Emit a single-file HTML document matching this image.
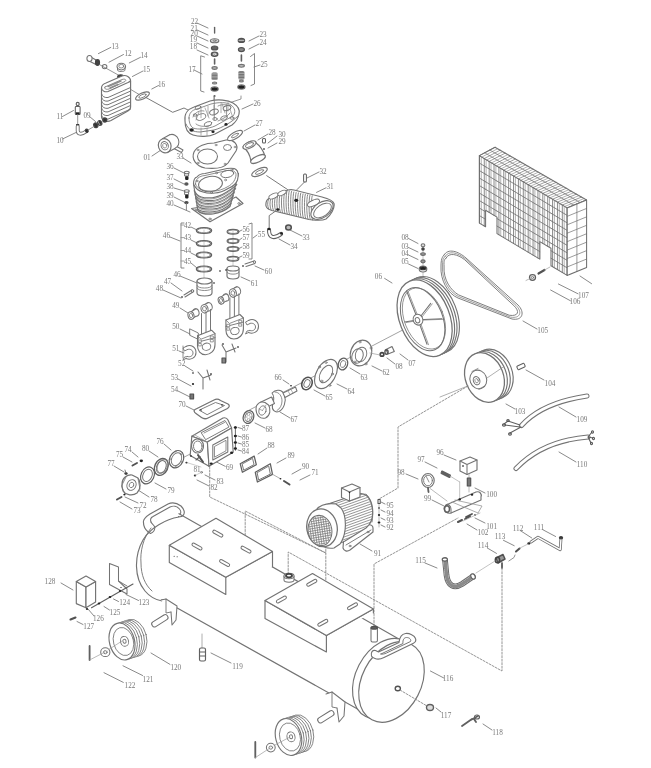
<!DOCTYPE html>
<html><head><meta charset="utf-8"><style>
html,body{margin:0;padding:0;background:#fff;}
body{width:651px;height:768px;overflow:hidden;}
svg{display:block;}
text{font-family:"Liberation Serif",serif;fill:#787878;}
</style></head><body>
<svg width="651" height="768" viewBox="0 0 651 768" stroke-linecap="round" stroke-linejoin="round">
<defs><filter id="bl" x="0" y="0" width="651" height="768" filterUnits="userSpaceOnUse"><feColorMatrix type="saturate" values="0"/></filter></defs>
<rect width="651" height="768" fill="#fff"/>
<g filter="url(#bl)">
<text x="115" y="46.5" font-size="8.4" transform="translate(115 46.5) scale(0.86 1) translate(-115 -46.5)" text-anchor="middle" dominant-baseline="central">13</text>
<text x="128" y="53.5" font-size="8.4" transform="translate(128 53.5) scale(0.86 1) translate(-128 -53.5)" text-anchor="middle" dominant-baseline="central">12</text>
<text x="144" y="55.5" font-size="8.4" transform="translate(144 55.5) scale(0.86 1) translate(-144 -55.5)" text-anchor="middle" dominant-baseline="central">14</text>
<text x="146.5" y="69.5" font-size="8.4" transform="translate(146.5 69.5) scale(0.86 1) translate(-146.5 -69.5)" text-anchor="middle" dominant-baseline="central">15</text>
<text x="161.6" y="84" font-size="8.4" transform="translate(161.6 84) scale(0.86 1) translate(-161.6 -84)" text-anchor="middle" dominant-baseline="central">16</text>
<text x="60" y="116" font-size="8.4" transform="translate(60 116) scale(0.86 1) translate(-60 -116)" text-anchor="middle" dominant-baseline="central">11</text>
<text x="87" y="115" font-size="8.4" transform="translate(87 115) scale(0.86 1) translate(-87 -115)" text-anchor="middle" dominant-baseline="central">09</text>
<text x="60" y="140" font-size="8.4" transform="translate(60 140) scale(0.86 1) translate(-60 -140)" text-anchor="middle" dominant-baseline="central">10</text>
<text x="194.6" y="21.2" font-size="8.4" transform="translate(194.6 21.2) scale(0.86 1) translate(-194.6 -21.2)" text-anchor="middle" dominant-baseline="central">22</text>
<text x="194.2" y="28.6" font-size="8.4" transform="translate(194.2 28.6) scale(0.86 1) translate(-194.2 -28.6)" text-anchor="middle" dominant-baseline="central">21</text>
<text x="194.2" y="33.3" font-size="8.4" transform="translate(194.2 33.3) scale(0.86 1) translate(-194.2 -33.3)" text-anchor="middle" dominant-baseline="central">20</text>
<text x="193.4" y="39.6" font-size="8.4" transform="translate(193.4 39.6) scale(0.86 1) translate(-193.4 -39.6)" text-anchor="middle" dominant-baseline="central">19</text>
<text x="193.4" y="45.9" font-size="8.4" transform="translate(193.4 45.9) scale(0.86 1) translate(-193.4 -45.9)" text-anchor="middle" dominant-baseline="central">18</text>
<text x="192" y="68.9" font-size="8.4" transform="translate(192 68.9) scale(0.86 1) translate(-192 -68.9)" text-anchor="middle" dominant-baseline="central">17</text>
<text x="263" y="34" font-size="8.4" transform="translate(263 34) scale(0.86 1) translate(-263 -34)" text-anchor="middle" dominant-baseline="central">23</text>
<text x="263" y="42" font-size="8.4" transform="translate(263 42) scale(0.86 1) translate(-263 -42)" text-anchor="middle" dominant-baseline="central">24</text>
<text x="264" y="64" font-size="8.4" transform="translate(264 64) scale(0.86 1) translate(-264 -64)" text-anchor="middle" dominant-baseline="central">25</text>
<text x="257" y="103" font-size="8.4" transform="translate(257 103) scale(0.86 1) translate(-257 -103)" text-anchor="middle" dominant-baseline="central">26</text>
<text x="259" y="123" font-size="8.4" transform="translate(259 123) scale(0.86 1) translate(-259 -123)" text-anchor="middle" dominant-baseline="central">27</text>
<text x="272" y="132" font-size="8.4" transform="translate(272 132) scale(0.86 1) translate(-272 -132)" text-anchor="middle" dominant-baseline="central">28</text>
<text x="282" y="134" font-size="8.4" transform="translate(282 134) scale(0.86 1) translate(-282 -134)" text-anchor="middle" dominant-baseline="central">30</text>
<text x="282" y="141" font-size="8.4" transform="translate(282 141) scale(0.86 1) translate(-282 -141)" text-anchor="middle" dominant-baseline="central">29</text>
<text x="147" y="157" font-size="8.4" transform="translate(147 157) scale(0.86 1) translate(-147 -157)" text-anchor="middle" dominant-baseline="central">01</text>
<text x="180" y="156" font-size="8.4" transform="translate(180 156) scale(0.86 1) translate(-180 -156)" text-anchor="middle" dominant-baseline="central">33</text>
<text x="170" y="166.5" font-size="8.4" transform="translate(170 166.5) scale(0.86 1) translate(-170 -166.5)" text-anchor="middle" dominant-baseline="central">36</text>
<text x="170" y="177" font-size="8.4" transform="translate(170 177) scale(0.86 1) translate(-170 -177)" text-anchor="middle" dominant-baseline="central">37</text>
<text x="170" y="186" font-size="8.4" transform="translate(170 186) scale(0.86 1) translate(-170 -186)" text-anchor="middle" dominant-baseline="central">38</text>
<text x="170" y="195" font-size="8.4" transform="translate(170 195) scale(0.86 1) translate(-170 -195)" text-anchor="middle" dominant-baseline="central">39</text>
<text x="170" y="203" font-size="8.4" transform="translate(170 203) scale(0.86 1) translate(-170 -203)" text-anchor="middle" dominant-baseline="central">40</text>
<text x="323" y="171" font-size="8.4" transform="translate(323 171) scale(0.86 1) translate(-323 -171)" text-anchor="middle" dominant-baseline="central">32</text>
<text x="330" y="186" font-size="8.4" transform="translate(330 186) scale(0.86 1) translate(-330 -186)" text-anchor="middle" dominant-baseline="central">31</text>
<text x="306" y="237" font-size="8.4" transform="translate(306 237) scale(0.86 1) translate(-306 -237)" text-anchor="middle" dominant-baseline="central">33</text>
<text x="294" y="246" font-size="8.4" transform="translate(294 246) scale(0.86 1) translate(-294 -246)" text-anchor="middle" dominant-baseline="central">34</text>
<text x="187.5" y="225" font-size="8.4" transform="translate(187.5 225) scale(0.86 1) translate(-187.5 -225)" text-anchor="middle" dominant-baseline="central">42</text>
<text x="187.5" y="237.6" font-size="8.4" transform="translate(187.5 237.6) scale(0.86 1) translate(-187.5 -237.6)" text-anchor="middle" dominant-baseline="central">43</text>
<text x="187.5" y="250.5" font-size="8.4" transform="translate(187.5 250.5) scale(0.86 1) translate(-187.5 -250.5)" text-anchor="middle" dominant-baseline="central">44</text>
<text x="187.5" y="261" font-size="8.4" transform="translate(187.5 261) scale(0.86 1) translate(-187.5 -261)" text-anchor="middle" dominant-baseline="central">45</text>
<text x="166.4" y="235.2" font-size="8.4" transform="translate(166.4 235.2) scale(0.86 1) translate(-166.4 -235.2)" text-anchor="middle" dominant-baseline="central">46</text>
<text x="246" y="229.4" font-size="8.4" transform="translate(246 229.4) scale(0.86 1) translate(-246 -229.4)" text-anchor="middle" dominant-baseline="central">56</text>
<text x="246" y="237.6" font-size="8.4" transform="translate(246 237.6) scale(0.86 1) translate(-246 -237.6)" text-anchor="middle" dominant-baseline="central">57</text>
<text x="246" y="246.3" font-size="8.4" transform="translate(246 246.3) scale(0.86 1) translate(-246 -246.3)" text-anchor="middle" dominant-baseline="central">58</text>
<text x="246" y="255.2" font-size="8.4" transform="translate(246 255.2) scale(0.86 1) translate(-246 -255.2)" text-anchor="middle" dominant-baseline="central">59</text>
<text x="261.4" y="234" font-size="8.4" transform="translate(261.4 234) scale(0.86 1) translate(-261.4 -234)" text-anchor="middle" dominant-baseline="central">55</text>
<text x="268.4" y="271.6" font-size="8.4" transform="translate(268.4 271.6) scale(0.86 1) translate(-268.4 -271.6)" text-anchor="middle" dominant-baseline="central">60</text>
<text x="254.4" y="283.3" font-size="8.4" transform="translate(254.4 283.3) scale(0.86 1) translate(-254.4 -283.3)" text-anchor="middle" dominant-baseline="central">61</text>
<text x="177" y="274" font-size="8.4" transform="translate(177 274) scale(0.86 1) translate(-177 -274)" text-anchor="middle" dominant-baseline="central">46</text>
<text x="167.6" y="281" font-size="8.4" transform="translate(167.6 281) scale(0.86 1) translate(-167.6 -281)" text-anchor="middle" dominant-baseline="central">47</text>
<text x="159.4" y="288" font-size="8.4" transform="translate(159.4 288) scale(0.86 1) translate(-159.4 -288)" text-anchor="middle" dominant-baseline="central">48</text>
<text x="175.8" y="305.6" font-size="8.4" transform="translate(175.8 305.6) scale(0.86 1) translate(-175.8 -305.6)" text-anchor="middle" dominant-baseline="central">49</text>
<text x="175.8" y="326.7" font-size="8.4" transform="translate(175.8 326.7) scale(0.86 1) translate(-175.8 -326.7)" text-anchor="middle" dominant-baseline="central">50</text>
<text x="175.8" y="348.5" font-size="8.4" transform="translate(175.8 348.5) scale(0.86 1) translate(-175.8 -348.5)" text-anchor="middle" dominant-baseline="central">51</text>
<text x="181.7" y="363" font-size="8.4" transform="translate(181.7 363) scale(0.86 1) translate(-181.7 -363)" text-anchor="middle" dominant-baseline="central">52</text>
<text x="174.6" y="377" font-size="8.4" transform="translate(174.6 377) scale(0.86 1) translate(-174.6 -377)" text-anchor="middle" dominant-baseline="central">53</text>
<text x="174.6" y="389" font-size="8.4" transform="translate(174.6 389) scale(0.86 1) translate(-174.6 -389)" text-anchor="middle" dominant-baseline="central">54</text>
<text x="278" y="377" font-size="8.4" transform="translate(278 377) scale(0.86 1) translate(-278 -377)" text-anchor="middle" dominant-baseline="central">66</text>
<text x="386" y="372.5" font-size="8.4" transform="translate(386 372.5) scale(0.86 1) translate(-386 -372.5)" text-anchor="middle" dominant-baseline="central">62</text>
<text x="364" y="377" font-size="8.4" transform="translate(364 377) scale(0.86 1) translate(-364 -377)" text-anchor="middle" dominant-baseline="central">63</text>
<text x="351" y="391.5" font-size="8.4" transform="translate(351 391.5) scale(0.86 1) translate(-351 -391.5)" text-anchor="middle" dominant-baseline="central">64</text>
<text x="329" y="397" font-size="8.4" transform="translate(329 397) scale(0.86 1) translate(-329 -397)" text-anchor="middle" dominant-baseline="central">65</text>
<text x="294" y="419" font-size="8.4" transform="translate(294 419) scale(0.86 1) translate(-294 -419)" text-anchor="middle" dominant-baseline="central">67</text>
<text x="269" y="429.5" font-size="8.4" transform="translate(269 429.5) scale(0.86 1) translate(-269 -429.5)" text-anchor="middle" dominant-baseline="central">68</text>
<text x="399" y="366.7" font-size="8.4" transform="translate(399 366.7) scale(0.86 1) translate(-399 -366.7)" text-anchor="middle" dominant-baseline="central">08</text>
<text x="412" y="363" font-size="8.4" transform="translate(412 363) scale(0.86 1) translate(-412 -363)" text-anchor="middle" dominant-baseline="central">07</text>
<text x="405" y="236.9" font-size="8.4" transform="translate(405 236.9) scale(0.86 1) translate(-405 -236.9)" text-anchor="middle" dominant-baseline="central">08</text>
<text x="405" y="246" font-size="8.4" transform="translate(405 246) scale(0.86 1) translate(-405 -246)" text-anchor="middle" dominant-baseline="central">03</text>
<text x="405" y="253.2" font-size="8.4" transform="translate(405 253.2) scale(0.86 1) translate(-405 -253.2)" text-anchor="middle" dominant-baseline="central">04</text>
<text x="405" y="261.8" font-size="8.4" transform="translate(405 261.8) scale(0.86 1) translate(-405 -261.8)" text-anchor="middle" dominant-baseline="central">05</text>
<text x="378.4" y="276.8" font-size="8.4" transform="translate(378.4 276.8) scale(0.86 1) translate(-378.4 -276.8)" text-anchor="middle" dominant-baseline="central">06</text>
<text x="542.8" y="330.6" font-size="8.4" transform="translate(542.8 330.6) scale(0.86 1) translate(-542.8 -330.6)" text-anchor="middle" dominant-baseline="central">105</text>
<text x="583.5" y="295.2" font-size="8.4" transform="translate(583.5 295.2) scale(0.86 1) translate(-583.5 -295.2)" text-anchor="middle" dominant-baseline="central">107</text>
<text x="575" y="301" font-size="8.4" transform="translate(575 301) scale(0.86 1) translate(-575 -301)" text-anchor="middle" dominant-baseline="central">106</text>
<text x="550" y="383" font-size="8.4" transform="translate(550 383) scale(0.86 1) translate(-550 -383)" text-anchor="middle" dominant-baseline="central">104</text>
<text x="520" y="411.6" font-size="8.4" transform="translate(520 411.6) scale(0.86 1) translate(-520 -411.6)" text-anchor="middle" dominant-baseline="central">103</text>
<text x="582" y="419.7" font-size="8.4" transform="translate(582 419.7) scale(0.86 1) translate(-582 -419.7)" text-anchor="middle" dominant-baseline="central">109</text>
<text x="582" y="464" font-size="8.4" transform="translate(582 464) scale(0.86 1) translate(-582 -464)" text-anchor="middle" dominant-baseline="central">110</text>
<text x="182" y="404" font-size="8.4" transform="translate(182 404) scale(0.86 1) translate(-182 -404)" text-anchor="middle" dominant-baseline="central">70</text>
<text x="245.6" y="428.7" font-size="8.4" transform="translate(245.6 428.7) scale(0.86 1) translate(-245.6 -428.7)" text-anchor="middle" dominant-baseline="central">87</text>
<text x="245.6" y="437.3" font-size="8.4" transform="translate(245.6 437.3) scale(0.86 1) translate(-245.6 -437.3)" text-anchor="middle" dominant-baseline="central">86</text>
<text x="245.6" y="444.2" font-size="8.4" transform="translate(245.6 444.2) scale(0.86 1) translate(-245.6 -444.2)" text-anchor="middle" dominant-baseline="central">85</text>
<text x="245.6" y="451.2" font-size="8.4" transform="translate(245.6 451.2) scale(0.86 1) translate(-245.6 -451.2)" text-anchor="middle" dominant-baseline="central">84</text>
<text x="229.5" y="467.4" font-size="8.4" transform="translate(229.5 467.4) scale(0.86 1) translate(-229.5 -467.4)" text-anchor="middle" dominant-baseline="central">69</text>
<text x="197" y="469" font-size="8.4" transform="translate(197 469) scale(0.86 1) translate(-197 -469)" text-anchor="middle" dominant-baseline="central">81</text>
<text x="220" y="481.6" font-size="8.4" transform="translate(220 481.6) scale(0.86 1) translate(-220 -481.6)" text-anchor="middle" dominant-baseline="central">83</text>
<text x="214" y="487.8" font-size="8.4" transform="translate(214 487.8) scale(0.86 1) translate(-214 -487.8)" text-anchor="middle" dominant-baseline="central">82</text>
<text x="271" y="445.5" font-size="8.4" transform="translate(271 445.5) scale(0.86 1) translate(-271 -445.5)" text-anchor="middle" dominant-baseline="central">88</text>
<text x="291" y="455.7" font-size="8.4" transform="translate(291 455.7) scale(0.86 1) translate(-291 -455.7)" text-anchor="middle" dominant-baseline="central">89</text>
<text x="305.6" y="466" font-size="8.4" transform="translate(305.6 466) scale(0.86 1) translate(-305.6 -466)" text-anchor="middle" dominant-baseline="central">90</text>
<text x="315" y="472" font-size="8.4" transform="translate(315 472) scale(0.86 1) translate(-315 -472)" text-anchor="middle" dominant-baseline="central">71</text>
<text x="160" y="441" font-size="8.4" transform="translate(160 441) scale(0.86 1) translate(-160 -441)" text-anchor="middle" dominant-baseline="central">76</text>
<text x="145.5" y="448.5" font-size="8.4" transform="translate(145.5 448.5) scale(0.86 1) translate(-145.5 -448.5)" text-anchor="middle" dominant-baseline="central">80</text>
<text x="128" y="449.7" font-size="8.4" transform="translate(128 449.7) scale(0.86 1) translate(-128 -449.7)" text-anchor="middle" dominant-baseline="central">74</text>
<text x="119.6" y="454.6" font-size="8.4" transform="translate(119.6 454.6) scale(0.86 1) translate(-119.6 -454.6)" text-anchor="middle" dominant-baseline="central">75</text>
<text x="111" y="463" font-size="8.4" transform="translate(111 463) scale(0.86 1) translate(-111 -463)" text-anchor="middle" dominant-baseline="central">77</text>
<text x="171" y="490" font-size="8.4" transform="translate(171 490) scale(0.86 1) translate(-171 -490)" text-anchor="middle" dominant-baseline="central">79</text>
<text x="154" y="499" font-size="8.4" transform="translate(154 499) scale(0.86 1) translate(-154 -499)" text-anchor="middle" dominant-baseline="central">78</text>
<text x="143" y="505" font-size="8.4" transform="translate(143 505) scale(0.86 1) translate(-143 -505)" text-anchor="middle" dominant-baseline="central">72</text>
<text x="137" y="510" font-size="8.4" transform="translate(137 510) scale(0.86 1) translate(-137 -510)" text-anchor="middle" dominant-baseline="central">73</text>
<text x="440" y="452" font-size="8.4" transform="translate(440 452) scale(0.86 1) translate(-440 -452)" text-anchor="middle" dominant-baseline="central">96</text>
<text x="421" y="459.7" font-size="8.4" transform="translate(421 459.7) scale(0.86 1) translate(-421 -459.7)" text-anchor="middle" dominant-baseline="central">97</text>
<text x="401" y="472" font-size="8.4" transform="translate(401 472) scale(0.86 1) translate(-401 -472)" text-anchor="middle" dominant-baseline="central">98</text>
<text x="427.5" y="498.8" font-size="8.4" transform="translate(427.5 498.8) scale(0.86 1) translate(-427.5 -498.8)" text-anchor="middle" dominant-baseline="central">99</text>
<text x="491.6" y="494.8" font-size="8.4" transform="translate(491.6 494.8) scale(0.86 1) translate(-491.6 -494.8)" text-anchor="middle" dominant-baseline="central">100</text>
<text x="491.6" y="526" font-size="8.4" transform="translate(491.6 526) scale(0.86 1) translate(-491.6 -526)" text-anchor="middle" dominant-baseline="central">101</text>
<text x="483" y="532" font-size="8.4" transform="translate(483 532) scale(0.86 1) translate(-483 -532)" text-anchor="middle" dominant-baseline="central">102</text>
<text x="390" y="505" font-size="8.4" transform="translate(390 505) scale(0.86 1) translate(-390 -505)" text-anchor="middle" dominant-baseline="central">95</text>
<text x="390" y="513" font-size="8.4" transform="translate(390 513) scale(0.86 1) translate(-390 -513)" text-anchor="middle" dominant-baseline="central">94</text>
<text x="390" y="520.6" font-size="8.4" transform="translate(390 520.6) scale(0.86 1) translate(-390 -520.6)" text-anchor="middle" dominant-baseline="central">93</text>
<text x="390" y="527.5" font-size="8.4" transform="translate(390 527.5) scale(0.86 1) translate(-390 -527.5)" text-anchor="middle" dominant-baseline="central">92</text>
<text x="377.5" y="553.4" font-size="8.4" transform="translate(377.5 553.4) scale(0.86 1) translate(-377.5 -553.4)" text-anchor="middle" dominant-baseline="central">91</text>
<text x="539" y="527.7" font-size="8.4" transform="translate(539 527.7) scale(0.86 1) translate(-539 -527.7)" text-anchor="middle" dominant-baseline="central">111</text>
<text x="518" y="528.8" font-size="8.4" transform="translate(518 528.8) scale(0.86 1) translate(-518 -528.8)" text-anchor="middle" dominant-baseline="central">112</text>
<text x="500" y="536.3" font-size="8.4" transform="translate(500 536.3) scale(0.86 1) translate(-500 -536.3)" text-anchor="middle" dominant-baseline="central">113</text>
<text x="483" y="545" font-size="8.4" transform="translate(483 545) scale(0.86 1) translate(-483 -545)" text-anchor="middle" dominant-baseline="central">114</text>
<text x="420.6" y="560.3" font-size="8.4" transform="translate(420.6 560.3) scale(0.86 1) translate(-420.6 -560.3)" text-anchor="middle" dominant-baseline="central">115</text>
<text x="50" y="581.3" font-size="8.4" transform="translate(50 581.3) scale(0.86 1) translate(-50 -581.3)" text-anchor="middle" dominant-baseline="central">128</text>
<text x="124.6" y="602" font-size="8.4" transform="translate(124.6 602) scale(0.86 1) translate(-124.6 -602)" text-anchor="middle" dominant-baseline="central">124</text>
<text x="144" y="602" font-size="8.4" transform="translate(144 602) scale(0.86 1) translate(-144 -602)" text-anchor="middle" dominant-baseline="central">123</text>
<text x="115" y="612.4" font-size="8.4" transform="translate(115 612.4) scale(0.86 1) translate(-115 -612.4)" text-anchor="middle" dominant-baseline="central">125</text>
<text x="98.4" y="618" font-size="8.4" transform="translate(98.4 618) scale(0.86 1) translate(-98.4 -618)" text-anchor="middle" dominant-baseline="central">126</text>
<text x="88.7" y="626" font-size="8.4" transform="translate(88.7 626) scale(0.86 1) translate(-88.7 -626)" text-anchor="middle" dominant-baseline="central">127</text>
<text x="175.8" y="667" font-size="8.4" transform="translate(175.8 667) scale(0.86 1) translate(-175.8 -667)" text-anchor="middle" dominant-baseline="central">120</text>
<text x="148" y="679.6" font-size="8.4" transform="translate(148 679.6) scale(0.86 1) translate(-148 -679.6)" text-anchor="middle" dominant-baseline="central">121</text>
<text x="130" y="685" font-size="8.4" transform="translate(130 685) scale(0.86 1) translate(-130 -685)" text-anchor="middle" dominant-baseline="central">122</text>
<text x="237.5" y="666" font-size="8.4" transform="translate(237.5 666) scale(0.86 1) translate(-237.5 -666)" text-anchor="middle" dominant-baseline="central">119</text>
<text x="448" y="678" font-size="8.4" transform="translate(448 678) scale(0.86 1) translate(-448 -678)" text-anchor="middle" dominant-baseline="central">116</text>
<text x="446" y="715.7" font-size="8.4" transform="translate(446 715.7) scale(0.86 1) translate(-446 -715.7)" text-anchor="middle" dominant-baseline="central">117</text>
<text x="497.5" y="732.5" font-size="8.4" transform="translate(497.5 732.5) scale(0.86 1) translate(-497.5 -732.5)" text-anchor="middle" dominant-baseline="central">118</text>
<line x1="98.4" y1="53.6" x2="110.8" y2="47.4" stroke="#808080" stroke-width="0.92"/>
<line x1="109" y1="62.2" x2="123.5" y2="54.5" stroke="#808080" stroke-width="0.92"/>
<line x1="129.3" y1="62.9" x2="140.5" y2="57.3" stroke="#808080" stroke-width="0.92"/>
<line x1="132.4" y1="76.5" x2="143" y2="71" stroke="#808080" stroke-width="0.92"/>
<line x1="151.8" y1="89" x2="158.5" y2="85.5" stroke="#808080" stroke-width="0.92"/>
<line x1="62.5" y1="116.5" x2="73.5" y2="110.5" stroke="#808080" stroke-width="0.92"/>
<line x1="62.5" y1="139" x2="76" y2="132.5" stroke="#808080" stroke-width="0.92"/>
<line x1="89.5" y1="116.5" x2="95.5" y2="121.5" stroke="#808080" stroke-width="0.92"/>
<line x1="197" y1="23" x2="208" y2="28" stroke="#808080" stroke-width="0.92"/>
<line x1="197" y1="30" x2="208" y2="35" stroke="#808080" stroke-width="0.92"/>
<line x1="197" y1="36" x2="208" y2="41" stroke="#808080" stroke-width="0.92"/>
<line x1="197" y1="43" x2="208" y2="48" stroke="#808080" stroke-width="0.92"/>
<line x1="197" y1="50" x2="208" y2="55" stroke="#808080" stroke-width="0.92"/>
<line x1="194" y1="70" x2="202" y2="74" stroke="#808080" stroke-width="0.92"/>
<line x1="249" y1="41" x2="259" y2="36" stroke="#808080" stroke-width="0.92"/>
<line x1="249" y1="49" x2="259" y2="44" stroke="#808080" stroke-width="0.92"/>
<line x1="254" y1="67" x2="260" y2="65" stroke="#808080" stroke-width="0.92"/>
<line x1="242" y1="109" x2="253" y2="104" stroke="#808080" stroke-width="0.92"/>
<line x1="244" y1="131" x2="255" y2="125" stroke="#808080" stroke-width="0.92"/>
<line x1="258" y1="140" x2="268" y2="134" stroke="#808080" stroke-width="0.92"/>
<line x1="268" y1="143" x2="277" y2="136" stroke="#808080" stroke-width="0.92"/>
<line x1="268" y1="148" x2="277" y2="143" stroke="#808080" stroke-width="0.92"/>
<line x1="152" y1="156" x2="161" y2="150" stroke="#808080" stroke-width="0.92"/>
<line x1="183" y1="158" x2="191" y2="163" stroke="#808080" stroke-width="0.92"/>
<line x1="174" y1="168" x2="184" y2="173" stroke="#808080" stroke-width="0.92"/>
<line x1="174" y1="179" x2="184" y2="184" stroke="#808080" stroke-width="0.92"/>
<line x1="174" y1="188" x2="184" y2="191" stroke="#808080" stroke-width="0.92"/>
<line x1="174" y1="197" x2="184" y2="202" stroke="#808080" stroke-width="0.92"/>
<line x1="174" y1="205" x2="190" y2="212" stroke="#808080" stroke-width="0.92"/>
<line x1="307" y1="178" x2="319" y2="172" stroke="#808080" stroke-width="0.92"/>
<line x1="316.5" y1="192.4" x2="326" y2="187.8" stroke="#808080" stroke-width="0.92"/>
<line x1="290" y1="230" x2="302" y2="236" stroke="#808080" stroke-width="0.92"/>
<line x1="279" y1="239" x2="290" y2="245" stroke="#808080" stroke-width="0.92"/>
<line x1="191" y1="227" x2="197" y2="230" stroke="#808080" stroke-width="0.92"/>
<line x1="191" y1="240" x2="197" y2="243" stroke="#808080" stroke-width="0.92"/>
<line x1="191" y1="253" x2="197" y2="256" stroke="#808080" stroke-width="0.92"/>
<line x1="191" y1="263" x2="197" y2="268" stroke="#808080" stroke-width="0.92"/>
<line x1="170" y1="237" x2="180" y2="241" stroke="#808080" stroke-width="0.92"/>
<line x1="238" y1="232" x2="242" y2="230" stroke="#808080" stroke-width="0.92"/>
<line x1="238" y1="241" x2="242" y2="238" stroke="#808080" stroke-width="0.92"/>
<line x1="238" y1="249" x2="242" y2="247" stroke="#808080" stroke-width="0.92"/>
<line x1="238" y1="258" x2="242" y2="256" stroke="#808080" stroke-width="0.92"/>
<line x1="253" y1="238" x2="257" y2="235" stroke="#808080" stroke-width="0.92"/>
<line x1="255" y1="266" x2="264" y2="270" stroke="#808080" stroke-width="0.92"/>
<line x1="241" y1="277" x2="250" y2="281" stroke="#808080" stroke-width="0.92"/>
<line x1="180" y1="276" x2="197" y2="283" stroke="#808080" stroke-width="0.92"/>
<line x1="171" y1="283" x2="182" y2="291" stroke="#808080" stroke-width="0.92"/>
<line x1="163" y1="290" x2="181" y2="298" stroke="#808080" stroke-width="0.92"/>
<line x1="180" y1="308" x2="188" y2="313" stroke="#808080" stroke-width="0.92"/>
<line x1="180" y1="329" x2="190" y2="334" stroke="#808080" stroke-width="0.92"/>
<line x1="179" y1="351" x2="184" y2="353" stroke="#808080" stroke-width="0.92"/>
<line x1="185" y1="366" x2="193" y2="371" stroke="#808080" stroke-width="0.92"/>
<line x1="178" y1="379" x2="191" y2="386" stroke="#808080" stroke-width="0.92"/>
<line x1="178" y1="391" x2="190" y2="397" stroke="#808080" stroke-width="0.92"/>
<line x1="283" y1="380" x2="289" y2="384" stroke="#808080" stroke-width="0.92"/>
<line x1="372" y1="366" x2="382" y2="371" stroke="#808080" stroke-width="0.92"/>
<line x1="350" y1="368" x2="360" y2="374" stroke="#808080" stroke-width="0.92"/>
<line x1="337" y1="384" x2="347" y2="389" stroke="#808080" stroke-width="0.92"/>
<line x1="314" y1="390" x2="325" y2="396" stroke="#808080" stroke-width="0.92"/>
<line x1="280" y1="412" x2="290" y2="418" stroke="#808080" stroke-width="0.92"/>
<line x1="255" y1="423" x2="265" y2="428" stroke="#808080" stroke-width="0.92"/>
<line x1="387" y1="358" x2="395" y2="364" stroke="#808080" stroke-width="0.92"/>
<line x1="400" y1="354" x2="408" y2="360" stroke="#808080" stroke-width="0.92"/>
<line x1="408.5" y1="238.5" x2="418" y2="243.5" stroke="#808080" stroke-width="0.92"/>
<line x1="408.5" y1="247.5" x2="418" y2="252" stroke="#808080" stroke-width="0.92"/>
<line x1="408.5" y1="255" x2="418" y2="259.5" stroke="#808080" stroke-width="0.92"/>
<line x1="408.5" y1="264" x2="418" y2="268.5" stroke="#808080" stroke-width="0.92"/>
<line x1="384.6" y1="278.4" x2="392" y2="283" stroke="#808080" stroke-width="0.92"/>
<line x1="523" y1="321" x2="537" y2="329" stroke="#808080" stroke-width="0.92"/>
<line x1="580" y1="276" x2="591.6" y2="283.7" stroke="#808080" stroke-width="0.92"/>
<line x1="558.4" y1="284" x2="578" y2="293.8" stroke="#808080" stroke-width="0.92"/>
<line x1="550.6" y1="290" x2="570.5" y2="300.8" stroke="#808080" stroke-width="0.92"/>
<line x1="526" y1="370" x2="544" y2="380" stroke="#808080" stroke-width="0.92"/>
<line x1="506" y1="404" x2="515" y2="409" stroke="#808080" stroke-width="0.92"/>
<line x1="559" y1="407" x2="576" y2="417" stroke="#808080" stroke-width="0.92"/>
<line x1="559" y1="452" x2="576" y2="462" stroke="#808080" stroke-width="0.92"/>
<line x1="186" y1="406" x2="194" y2="410" stroke="#808080" stroke-width="0.92"/>
<line x1="238" y1="427.5" x2="241.5" y2="428.5" stroke="#808080" stroke-width="0.92"/>
<line x1="238" y1="436" x2="241.5" y2="437" stroke="#808080" stroke-width="0.92"/>
<line x1="238" y1="443" x2="241.5" y2="444" stroke="#808080" stroke-width="0.92"/>
<line x1="238" y1="450" x2="241.5" y2="451" stroke="#808080" stroke-width="0.92"/>
<line x1="213.3" y1="460.4" x2="225.2" y2="466.3" stroke="#808080" stroke-width="0.92"/>
<line x1="205" y1="475" x2="215" y2="480" stroke="#808080" stroke-width="0.92"/>
<line x1="197" y1="480" x2="209" y2="486" stroke="#808080" stroke-width="0.92"/>
<line x1="258" y1="454" x2="267" y2="448" stroke="#808080" stroke-width="0.92"/>
<line x1="277" y1="463" x2="286" y2="458" stroke="#808080" stroke-width="0.92"/>
<line x1="292" y1="474" x2="301" y2="469" stroke="#808080" stroke-width="0.92"/>
<line x1="300" y1="480" x2="310" y2="475" stroke="#808080" stroke-width="0.92"/>
<line x1="164" y1="444" x2="171" y2="450" stroke="#808080" stroke-width="0.92"/>
<line x1="149" y1="451" x2="158" y2="457" stroke="#808080" stroke-width="0.92"/>
<line x1="132" y1="452" x2="138" y2="457" stroke="#808080" stroke-width="0.92"/>
<line x1="123" y1="457" x2="132" y2="462" stroke="#808080" stroke-width="0.92"/>
<line x1="114" y1="466" x2="124" y2="472" stroke="#808080" stroke-width="0.92"/>
<line x1="155" y1="483" x2="166" y2="489" stroke="#808080" stroke-width="0.92"/>
<line x1="138" y1="490" x2="149" y2="497" stroke="#808080" stroke-width="0.92"/>
<line x1="125" y1="497" x2="138" y2="503" stroke="#808080" stroke-width="0.92"/>
<line x1="120" y1="502" x2="132" y2="509" stroke="#808080" stroke-width="0.92"/>
<line x1="444" y1="455" x2="456" y2="460" stroke="#808080" stroke-width="0.92"/>
<line x1="425" y1="462" x2="437" y2="468" stroke="#808080" stroke-width="0.92"/>
<line x1="406" y1="474" x2="418" y2="479" stroke="#808080" stroke-width="0.92"/>
<line x1="432" y1="500" x2="444" y2="506" stroke="#808080" stroke-width="0.92"/>
<line x1="475" y1="488" x2="485" y2="493" stroke="#808080" stroke-width="0.92"/>
<line x1="475" y1="518" x2="485" y2="523" stroke="#808080" stroke-width="0.92"/>
<line x1="467" y1="524" x2="477" y2="530" stroke="#808080" stroke-width="0.92"/>
<line x1="381" y1="502" x2="385" y2="504" stroke="#808080" stroke-width="0.92"/>
<line x1="381" y1="510" x2="385" y2="512" stroke="#808080" stroke-width="0.92"/>
<line x1="381" y1="518" x2="385" y2="520" stroke="#808080" stroke-width="0.92"/>
<line x1="381" y1="525" x2="385" y2="527" stroke="#808080" stroke-width="0.92"/>
<line x1="360" y1="544" x2="372" y2="551" stroke="#808080" stroke-width="0.92"/>
<line x1="542.6" y1="529.6" x2="555.6" y2="536.5" stroke="#808080" stroke-width="0.92"/>
<line x1="520" y1="530.4" x2="531.8" y2="538" stroke="#808080" stroke-width="0.92"/>
<line x1="503.4" y1="540.3" x2="514.2" y2="545.7" stroke="#808080" stroke-width="0.92"/>
<line x1="487.3" y1="548" x2="496.5" y2="553.4" stroke="#808080" stroke-width="0.92"/>
<line x1="425" y1="563" x2="437" y2="568" stroke="#808080" stroke-width="0.92"/>
<line x1="61" y1="583" x2="73" y2="590" stroke="#808080" stroke-width="0.92"/>
<line x1="113.5" y1="599" x2="118.5" y2="601.5" stroke="#808080" stroke-width="0.92"/>
<line x1="126" y1="594.5" x2="138.5" y2="600.5" stroke="#808080" stroke-width="0.92"/>
<line x1="104" y1="606.5" x2="109.5" y2="610" stroke="#808080" stroke-width="0.92"/>
<line x1="88" y1="609" x2="94" y2="616" stroke="#808080" stroke-width="0.92"/>
<line x1="77" y1="621.5" x2="83" y2="624.5" stroke="#808080" stroke-width="0.92"/>
<line x1="151" y1="653" x2="170" y2="664.4" stroke="#808080" stroke-width="0.92"/>
<line x1="123" y1="665.8" x2="142.6" y2="675.5" stroke="#808080" stroke-width="0.92"/>
<line x1="104" y1="672.7" x2="123.3" y2="682.4" stroke="#808080" stroke-width="0.92"/>
<line x1="211" y1="653" x2="231" y2="663" stroke="#808080" stroke-width="0.92"/>
<line x1="430.4" y1="671" x2="443.8" y2="678" stroke="#808080" stroke-width="0.92"/>
<line x1="436" y1="708" x2="441" y2="712" stroke="#808080" stroke-width="0.92"/>
<line x1="483" y1="724" x2="492" y2="730" stroke="#808080" stroke-width="0.92"/>
<polyline points="209.7,463 209.7,497 325.8,553" stroke="#8b8b8b" stroke-width="0.92" fill="none" stroke-dasharray="2 1.5"/>
<polyline points="468,386 398,427 398,488 379,499" stroke="#8b8b8b" stroke-width="0.92" fill="none" stroke-dasharray="2 1.5"/>
<polyline points="245.2,549 245.2,511 325.8,553" stroke="#8b8b8b" stroke-width="0.92" fill="none" stroke-dasharray="2 1.5"/>
<polyline points="288.2,574 288.2,552 502,671 502,563" stroke="#8b8b8b" stroke-width="0.92" fill="none" stroke-dasharray="2 1.5"/>
<polyline points="325.8,546 325.8,598" stroke="#8b8b8b" stroke-width="0.92" fill="none" stroke-dasharray="2 1.5"/>
<polyline points="374,626 374,564 458,518" stroke="#8b8b8b" stroke-width="0.92" fill="none" stroke-dasharray="2 1.5"/>
<line x1="179" y1="513.63" x2="401" y2="640.17" stroke="#737373" stroke-width="1.15"/>
<line x1="162" y1="599.5200000000001" x2="366" y2="713.76" stroke="#737373" stroke-width="1.15"/>
<path d="M179,517 C166,519 150,528 143,540 C134,556 134,578 145,591 C150,597 156,600 162,601" stroke="#737373" stroke-width="1.15" fill="none" />
<path d="M151,528 C143,538 140,552 141,563 C141,575 145,585 152,591" stroke="#737373" stroke-width="0.92" fill="none" />
<path d="M150.5,533.5 C147,531.5 143,527 143.5,521 C144,518 147,516 150,514 L168,504 C172,502 177,503 181,506 C184,509 185.5,513 183,515.5 C181.5,517 180,517 178.5,516.5" stroke="#737373" stroke-width="1.15" fill="none" />
<path d="M151,522 C150,519.5 151,517.5 153,516.5 L170,507 C173,505.5 177,506 179.5,509 C181,511 181,513 180,514" stroke="#737373" stroke-width="1.035" fill="none" />
<path d="M150.5,533.5 C153.5,532.5 155.5,529.5 154.5,526.5 C153.5,524.5 151.5,523.5 151,522" stroke="#737373" stroke-width="1.035" fill="none" />
<ellipse cx="385.3" cy="678.7" rx="29.6" ry="42.6" stroke="#737373" stroke-width="1.15" fill="#fff" transform="rotate(27.4 385.3 678.7)"/>
<ellipse cx="391.5" cy="682" rx="29.6" ry="42.6" stroke="#737373" stroke-width="1.15" fill="#fff" transform="rotate(27.4 391.5 682)"/>
<ellipse cx="397.8" cy="688.5" rx="2.6" ry="2.3" stroke="#525252" stroke-width="1.38" fill="none"/>
<polyline points="400,690 427,706" stroke="#8b8b8b" stroke-width="0.92" fill="none" stroke-dasharray="2 1.5"/>
<path d="M371.5,656 C370.5,652 372.5,650 375.5,650.5 L378.5,652 L399,642.5 C399.5,638 401.5,634 405.5,633.5 C409.5,633 414.5,635.5 415.5,638.5 C416.5,641 415,642.5 413,643.5 L384,657.5 C381,659 377.5,659.5 375,658.5 C373.5,658 372,657.5 371.5,656 Z" stroke="#737373" stroke-width="1.15" fill="#fff" />
<path d="M381,654 L403,643.5 C402.5,640 404,637.5 406.5,637.5 C409.5,637.5 411.5,639.5 410.5,641.5 L386.5,653 C384.5,654 382,654.5 381,654 Z" stroke="#737373" stroke-width="0.977" fill="none" />
<polygon points="169.3,545.3 225.8,577.2 225.8,594.4 169.3,562.5" stroke="#737373" stroke-width="1.15" fill="#fff"/>
<polyline points="225.8,577.2 272.5,551.4 272.5,566.7" stroke="#737373" stroke-width="1.15" fill="#fff"/>
<polygon points="169.3,545.3 216,518.3 272.5,551.4 225.8,577.2" stroke="#737373" stroke-width="1.15" fill="#fff"/>
<rect x="212.3" y="532.1" width="11" height="3" rx="1.5" transform="rotate(29 217.8 533.6)" stroke="#737373" stroke-width="1.035" fill="none"/>
<rect x="191.5" y="545.0" width="11" height="3" rx="1.5" transform="rotate(29 197 546.5)" stroke="#737373" stroke-width="1.035" fill="none"/>
<rect x="240.5" y="548.1" width="11" height="3" rx="1.5" transform="rotate(29 246 549.6)" stroke="#737373" stroke-width="1.035" fill="none"/>
<rect x="219.1" y="561.5" width="11" height="3" rx="1.5" transform="rotate(29 224.6 563)" stroke="#737373" stroke-width="1.035" fill="none"/>
<ellipse cx="174.2" cy="556.3" rx="0.7" ry="0.5599999999999999" fill="#555"/>
<ellipse cx="177.2" cy="556.8" rx="0.7" ry="0.5599999999999999" fill="#555"/>
<polygon points="265,600.5 326.4,635.4 326.4,652 265,618.5" stroke="#737373" stroke-width="1.15" fill="#fff"/>
<polyline points="326.4,635.4 373.4,609 373.4,613" stroke="#737373" stroke-width="1.15" fill="#fff"/>
<polygon points="265,600.5 312.5,573.5 373.4,609 326.4,635.4" stroke="#737373" stroke-width="1.15" fill="#fff"/>
<rect x="275.9" y="598.0" width="11" height="3" rx="1.5" transform="rotate(-29 281.4 599.5)" stroke="#737373" stroke-width="1.035" fill="none"/>
<rect x="306.3" y="581.3" width="11" height="3" rx="1.5" transform="rotate(-29 311.8 582.8)" stroke="#737373" stroke-width="1.035" fill="none"/>
<rect x="347.0" y="604.8" width="11" height="3" rx="1.5" transform="rotate(-29 352.5 606.3)" stroke="#737373" stroke-width="1.035" fill="none"/>
<rect x="317.3" y="621.3" width="11" height="3" rx="1.5" transform="rotate(-29 322.8 622.8)" stroke="#737373" stroke-width="1.035" fill="none"/>
<path d="M284,576 L284,580 C284,583 294,583 294,580 L294,576" stroke="#737373" stroke-width="1.035" fill="#fff" />
<ellipse cx="289" cy="576" rx="5" ry="2.8" stroke="#737373" stroke-width="1.035" fill="#fff"/>
<ellipse cx="289" cy="575.6" rx="3" ry="1.8" stroke="#434343" stroke-width="1.84" fill="none"/>
<rect x="371" y="627" width="6.4" height="15" rx="1.5" stroke="#6e6e6e" stroke-width="1.035" fill="#fff"/>
<ellipse cx="374.2" cy="627.8" rx="3.1" ry="1.3" stroke="#525252" stroke-width="1.495" fill="#666"/>
<polyline points="161,600 166,599 177,606 176,620 172,625 171,612" stroke="#737373" stroke-width="1.035" fill="#fff"/>
<polyline points="166,599 166,613 171,612" stroke="#737373" stroke-width="0.92" fill="none"/>
<g transform="rotate(-32 160 621)"><rect x="151" y="618" width="18" height="5.5" rx="2.5" stroke="#6e6e6e" stroke-width="1.035" fill="#fff"/></g>
<polyline points="326,694 332,692 345,702 344,716 339,722 337,708" stroke="#737373" stroke-width="1.035" fill="#fff"/>
<polyline points="332,692 332,707 337,708" stroke="#737373" stroke-width="0.92" fill="none"/>
<g transform="rotate(-32 326 717)"><rect x="317" y="714" width="18" height="5.5" rx="2.5" stroke="#6e6e6e" stroke-width="1.035" fill="#fff"/></g>
<ellipse cx="134.0" cy="637.75" rx="12.5" ry="18.8" stroke="#737373" stroke-width="0.805" fill="#fff" transform="rotate(-15 134.0 637.75)"/>
<ellipse cx="131.6" cy="638.5" rx="12.5" ry="18.8" stroke="#737373" stroke-width="0.805" fill="#fff" transform="rotate(-15 131.6 638.5)"/>
<ellipse cx="129.2" cy="639.25" rx="12.5" ry="18.8" stroke="#737373" stroke-width="0.805" fill="#fff" transform="rotate(-15 129.2 639.25)"/>
<ellipse cx="126.8" cy="640.0" rx="12.5" ry="18.8" stroke="#737373" stroke-width="0.805" fill="#fff" transform="rotate(-15 126.8 640.0)"/>
<ellipse cx="124.4" cy="640.75" rx="12.5" ry="18.8" stroke="#737373" stroke-width="0.805" fill="#fff" transform="rotate(-15 124.4 640.75)"/>
<ellipse cx="122" cy="641.5" rx="12.5" ry="18.8" stroke="#737373" stroke-width="1.15" fill="#fff" transform="rotate(-15 122 641.5)"/>
<ellipse cx="123.5" cy="641.5" rx="10.0" ry="14.288" stroke="#737373" stroke-width="0.805" fill="none" transform="rotate(-15 123.5 641.5)"/>
<ellipse cx="124.5" cy="641.3" rx="4" ry="5" stroke="#737373" stroke-width="0.92" fill="none" transform="rotate(-15 124.5 641.3)"/>
<ellipse cx="124.5" cy="641.3" rx="1.6" ry="2" stroke="#737373" stroke-width="0.92" fill="none" transform="rotate(-15 124.5 641.3)"/>
<ellipse cx="300.5" cy="733.25" rx="12.8" ry="18.8" stroke="#737373" stroke-width="0.805" fill="#fff" transform="rotate(-15 300.5 733.25)"/>
<ellipse cx="298.1" cy="734.0" rx="12.8" ry="18.8" stroke="#737373" stroke-width="0.805" fill="#fff" transform="rotate(-15 298.1 734.0)"/>
<ellipse cx="295.7" cy="734.75" rx="12.8" ry="18.8" stroke="#737373" stroke-width="0.805" fill="#fff" transform="rotate(-15 295.7 734.75)"/>
<ellipse cx="293.3" cy="735.5" rx="12.8" ry="18.8" stroke="#737373" stroke-width="0.805" fill="#fff" transform="rotate(-15 293.3 735.5)"/>
<ellipse cx="290.9" cy="736.25" rx="12.8" ry="18.8" stroke="#737373" stroke-width="0.805" fill="#fff" transform="rotate(-15 290.9 736.25)"/>
<ellipse cx="288.5" cy="737" rx="12.8" ry="18.8" stroke="#737373" stroke-width="1.15" fill="#fff" transform="rotate(-15 288.5 737)"/>
<ellipse cx="290.0" cy="737" rx="10.240000000000002" ry="14.288" stroke="#737373" stroke-width="0.805" fill="none" transform="rotate(-15 290.0 737)"/>
<ellipse cx="291.0" cy="736.8" rx="4" ry="5" stroke="#737373" stroke-width="0.92" fill="none" transform="rotate(-15 291.0 736.8)"/>
<ellipse cx="291.0" cy="736.8" rx="1.6" ry="2" stroke="#737373" stroke-width="0.92" fill="none" transform="rotate(-15 291.0 736.8)"/>
<ellipse cx="105.3" cy="652.2" rx="4.6" ry="4.4" stroke="#737373" stroke-width="1.035" fill="none"/>
<ellipse cx="105.3" cy="652.2" rx="1.8" ry="1.6" stroke="#737373" stroke-width="0.92" fill="none"/>
<line x1="89.6" y1="646" x2="89.6" y2="660" stroke="#606060" stroke-width="1.84"/>
<line x1="89.6" y1="660" x2="105" y2="652" stroke="#9a9a9a" stroke-width="0.69"/>
<line x1="108" y1="650" x2="122" y2="641" stroke="#9a9a9a" stroke-width="0.69"/>
<ellipse cx="270.8" cy="747.6" rx="4.4" ry="4.3" stroke="#737373" stroke-width="1.035" fill="none"/>
<ellipse cx="270.8" cy="747.6" rx="1.8" ry="1.6" stroke="#737373" stroke-width="0.92" fill="none"/>
<line x1="255.3" y1="742" x2="255.3" y2="757.6" stroke="#606060" stroke-width="1.84"/>
<line x1="255.3" y1="757.6" x2="270" y2="748" stroke="#9a9a9a" stroke-width="0.69"/>
<line x1="274" y1="745.5" x2="290" y2="737" stroke="#9a9a9a" stroke-width="0.69"/>
<line x1="202" y1="634" x2="202" y2="648" stroke="#8b8b8b" stroke-width="0.69"/>
<rect x="199.5" y="648" width="6" height="13" rx="1.5" stroke="#606060" stroke-width="1.15" fill="#fff"/>
<line x1="199.5" y1="652" x2="205.5" y2="652" stroke="#606060" stroke-width="1.15"/>
<line x1="199.5" y1="656" x2="205.5" y2="656" stroke="#606060" stroke-width="1.15"/>
<ellipse cx="430" cy="707.5" rx="3.5" ry="3" stroke="#606060" stroke-width="1.38" fill="#ddd"/>
<path d="M462,726 L472,719 M469,721 L478,716 M474,719 L476,722" stroke="#606060" stroke-width="1.84" fill="none" />
<ellipse cx="477" cy="717" rx="2.5" ry="2" stroke="#606060" stroke-width="1.15" fill="none"/>
<polygon points="76.3,581.5 86,587 86,607.7 76.3,603.6" stroke="#737373" stroke-width="1.15" fill="#fff"/>
<polygon points="86,587 95.6,581.5 95.6,602 86,607.7" stroke="#737373" stroke-width="1.15" fill="#fff"/>
<polygon points="76.3,581.5 86,576 95.6,581.5 86,587" stroke="#737373" stroke-width="1.15" fill="#fff"/>
<polygon points="109.5,563.5 109.5,584.5 127,594 127,589 118.5,581 118.5,567" stroke="#737373" stroke-width="1.035" fill="#fff"/>
<line x1="118.5" y1="581" x2="127" y2="586" stroke="#737373" stroke-width="0.92"/>
<line x1="91.5" y1="607.7" x2="133" y2="584" stroke="#606060" stroke-width="1.15"/>
<ellipse cx="99" cy="603.5" rx="1.3" ry="1.04" fill="#222"/>
<ellipse cx="110" cy="597" rx="1.3" ry="1.04" fill="#222"/>
<ellipse cx="120" cy="591" rx="1.1" ry="0.8800000000000001" fill="#222"/>
<ellipse cx="121" cy="587.5" rx="0.7" ry="0.5599999999999999" fill="#222"/>
<ellipse cx="87" cy="609" rx="1.1" ry="0.8800000000000001" fill="#222"/>
<path d="M70.5,619.5 L75.5,617.5" stroke="#525252" stroke-width="2.07" fill="none" />
<polyline points="99.7,64.7 121.9,77" stroke="#7d7d7d" stroke-width="0.805" fill="none"/>
<polyline points="130.6,89.4 139,94.4" stroke="#7d7d7d" stroke-width="0.805" fill="none"/>
<polyline points="145,97 172.7,112.3 184,108 192,112" stroke="#6e6e6e" stroke-width="0.92" fill="none"/>
<polyline points="241,96 241,99 226,104" stroke="#7d7d7d" stroke-width="0.805" fill="none"/>
<polyline points="214,96 214,104" stroke="#7d7d7d" stroke-width="0.805" fill="none"/>
<polyline points="266.7,175.7 287.5,189.5" stroke="#6e6e6e" stroke-width="0.92" fill="none"/>
<polyline points="304.5,182 297,189.6 296,199.8" stroke="#6e6e6e" stroke-width="0.92" fill="none"/>
<polyline points="269.2,228 269.2,215.6 277.8,209.5" stroke="#6e6e6e" stroke-width="0.92" fill="none"/>
<line x1="204" y1="230" x2="204" y2="284" stroke="#a8a8a8" stroke-width="0.575"/>
<line x1="233" y1="231" x2="233" y2="270" stroke="#a8a8a8" stroke-width="0.575"/>
<line x1="124.6" y1="487.8" x2="196" y2="451" stroke="#8b8b8b" stroke-width="0.805"/>
<line x1="247.5" y1="411" x2="418" y2="322" stroke="#8b8b8b" stroke-width="0.805"/>
<path d="M89,56 L96,60 L96,64.5 L89,61 Z" stroke="#737373" stroke-width="1.035" fill="#fff" />
<ellipse cx="89.5" cy="58.5" rx="2.6" ry="3" stroke="#737373" stroke-width="1.035" fill="#fff"/>
<ellipse cx="97.5" cy="62.5" rx="1.8" ry="2.6" stroke="#434343" stroke-width="1.61" fill="#444"/>
<ellipse cx="104.6" cy="66.6" rx="2.3" ry="2.2" stroke="#737373" stroke-width="1.035" fill="none"/>
<ellipse cx="121.3" cy="66.6" rx="4.3" ry="3.3" stroke="#737373" stroke-width="1.035" fill="#fff"/>
<ellipse cx="121.3" cy="66.2" rx="2.5" ry="1.8" stroke="#737373" stroke-width="0.805" fill="none"/>
<path d="M117.5,67.5 L117.5,70 C117.5,72 125,72 125,70 L125,67.5" stroke="#737373" stroke-width="0.92" fill="none" />
<ellipse cx="120.7" cy="77" rx="2.8" ry="1.8" stroke="#434343" stroke-width="1.725" fill="#333"/>
<path d="M101.5,88 C101.5,85 103,84 106,83 L122,76 C126,74.5 130.6,77 130.6,81 L130.6,107 C130.6,109.5 129,110.5 127,111.5 L111,120.5 C107,122.5 101.5,120.5 101.5,116.5 Z" stroke="#737373" stroke-width="1.15" fill="#fff" />
<path d="M101.5,88 C102,91 105,92.5 108,91.5 L128,82.5 C130,81.5 130.6,81 130.6,81" stroke="#737373" stroke-width="1.035" fill="none" />
<path d="M105,87 L122,79.5 C125,78.5 127,80 125,81.5 L109,89 C106,90 103.5,88.5 105,87 Z" stroke="#737373" stroke-width="0.805" fill="none" />
<path d="M108,86.5 L121,81 M110,88 L118,84.5" stroke="#8b8b8b" stroke-width="1.38" fill="none" />
<path d="M101.6,94.0 C102,96.5 105,98.0 108,97.5 L130.5,87.5" stroke="#737373" stroke-width="0.977" fill="none" />
<path d="M101.6,97.6 C102,100.1 105,101.6 108,101.1 L130.5,91.1" stroke="#737373" stroke-width="0.977" fill="none" />
<path d="M101.6,101.2 C102,103.7 105,105.2 108,104.7 L130.5,94.7" stroke="#737373" stroke-width="0.977" fill="none" />
<path d="M101.6,104.8 C102,107.3 105,108.8 108,108.3 L130.5,98.3" stroke="#737373" stroke-width="0.977" fill="none" />
<path d="M101.6,108.4 C102,110.9 105,112.4 108,111.9 L130.5,101.9" stroke="#737373" stroke-width="0.977" fill="none" />
<path d="M101.6,112.0 C102,114.5 105,116.0 108,115.5 L130.5,105.5" stroke="#737373" stroke-width="0.977" fill="none" />
<path d="M101.6,115.6 C102,118.1 105,119.6 108,119.1 L130.5,109.1" stroke="#737373" stroke-width="0.977" fill="none" />
<ellipse cx="104.8" cy="120" rx="1.9" ry="2" stroke="#434343" stroke-width="1.38" fill="#333"/>
<ellipse cx="95.8" cy="125.3" rx="2" ry="2.4" stroke="#434343" stroke-width="1.15" fill="#333" transform="rotate(-25 95.8 125.3)"/>
<ellipse cx="99.8" cy="123" rx="2" ry="2.4" stroke="#434343" stroke-width="1.15" fill="#333" transform="rotate(-25 99.8 123)"/>
<line x1="98" y1="121.5" x2="100" y2="125" stroke="#d4d4d4" stroke-width="0.69"/>
<line x1="88" y1="130" x2="94" y2="126.5" stroke="#7d7d7d" stroke-width="0.805"/>
<ellipse cx="77.7" cy="104" rx="1.5" ry="1.6" stroke="#606060" stroke-width="1.15" fill="#fff"/>
<rect x="75.3" y="106.5" width="4.8" height="8" rx="0.8" stroke="#606060" stroke-width="1.035" fill="#fff"/>
<rect x="75.8" y="112.3" width="3.8" height="2.2" fill="#222"/>
<line x1="77.7" y1="114.5" x2="77.7" y2="124" stroke="#7d7d7d" stroke-width="0.805"/>
<rect x="76.2" y="124" width="3" height="2.2" fill="#222"/>
<path d="M77.7,126.5 L77.7,130.5 C77.7,134 81,135 86,131.5" stroke="#6e6e6e" stroke-width="3.91" fill="none" />
<path d="M77.7,126.5 L77.7,130.5 C77.7,134 81,135 86,131.5" stroke="#ffffff" stroke-width="2.07" fill="none" />
<ellipse cx="86.8" cy="130.8" rx="1.3" ry="1.7" stroke="#434343" stroke-width="1.15" fill="#222" transform="rotate(-30 86.8 130.8)"/>
<ellipse cx="142.5" cy="96" rx="7.5" ry="3" stroke="#737373" stroke-width="1.15" fill="#fff" transform="rotate(-25 142.5 96)"/>
<ellipse cx="142.5" cy="96" rx="4" ry="1.5" stroke="#737373" stroke-width="0.805" fill="none" transform="rotate(-25 142.5 96)"/>
<line x1="214.6" y1="27.5" x2="214.6" y2="33" stroke="#606060" stroke-width="1.38"/>
<ellipse cx="214.6" cy="40.7" rx="4.2" ry="2" stroke="#737373" stroke-width="1.15" fill="#ddd"/>
<ellipse cx="214.6" cy="40.7" rx="1.5" ry="0.7" stroke="#737373" stroke-width="0.92" fill="none"/>
<ellipse cx="214.6" cy="48" rx="3.2" ry="2" stroke="#525252" stroke-width="1.15" fill="#666"/>
<ellipse cx="214.6" cy="54.2" rx="3.3" ry="2.2" stroke="#525252" stroke-width="1.15" fill="#777"/>
<ellipse cx="214.6" cy="54.2" rx="1.3" ry="0.8" stroke="#f1f1f1" stroke-width="0.805" fill="none"/>
<line x1="214.6" y1="59" x2="214.6" y2="64" stroke="#606060" stroke-width="1.61"/>
<ellipse cx="214.6" cy="68" rx="2.6" ry="1.4" stroke="#737373" stroke-width="1.15" fill="#bbb"/>
<rect x="211.6" y="72.5" width="6" height="7.5" rx="1.5" fill="#555"/>
<line x1="211.6" y1="73.3" x2="217.6" y2="73.3" stroke="#d4d4d4" stroke-width="0.69"/>
<line x1="211.6" y1="74.8" x2="217.6" y2="74.8" stroke="#d4d4d4" stroke-width="0.69"/>
<line x1="211.6" y1="76.3" x2="217.6" y2="76.3" stroke="#d4d4d4" stroke-width="0.69"/>
<line x1="211.6" y1="77.8" x2="217.6" y2="77.8" stroke="#d4d4d4" stroke-width="0.69"/>
<line x1="211.6" y1="79.3" x2="217.6" y2="79.3" stroke="#d4d4d4" stroke-width="0.69"/>
<ellipse cx="214.6" cy="83" rx="2.2" ry="1.1" stroke="#737373" stroke-width="1.035" fill="#aaa"/>
<ellipse cx="214.6" cy="89" rx="3.6" ry="2.1" stroke="#737373" stroke-width="1.15" fill="#222"/>
<ellipse cx="214.6" cy="96" rx="1" ry="0.8" fill="#222"/>
<ellipse cx="241.4" cy="40.4" rx="3.2" ry="2" stroke="#525252" stroke-width="1.15" fill="#666"/>
<line x1="239" y1="40.4" x2="243.8" y2="40.4" stroke="#e2e2e2" stroke-width="0.69"/>
<ellipse cx="241.4" cy="49.6" rx="3" ry="2" stroke="#525252" stroke-width="1.15" fill="#888"/>
<line x1="241.4" y1="55" x2="241.4" y2="61" stroke="#606060" stroke-width="1.61"/>
<ellipse cx="241.4" cy="65.8" rx="3" ry="1.4" stroke="#737373" stroke-width="1.15" fill="#bbb"/>
<rect x="238.4" y="71" width="6" height="8.5" rx="1.5" fill="#555"/>
<line x1="238.4" y1="72.0" x2="244.4" y2="72.0" stroke="#d4d4d4" stroke-width="0.69"/>
<line x1="238.4" y1="73.6" x2="244.4" y2="73.6" stroke="#d4d4d4" stroke-width="0.69"/>
<line x1="238.4" y1="75.2" x2="244.4" y2="75.2" stroke="#d4d4d4" stroke-width="0.69"/>
<line x1="238.4" y1="76.8" x2="244.4" y2="76.8" stroke="#d4d4d4" stroke-width="0.69"/>
<line x1="238.4" y1="78.4" x2="244.4" y2="78.4" stroke="#d4d4d4" stroke-width="0.69"/>
<ellipse cx="241.4" cy="81" rx="2" ry="1" stroke="#737373" stroke-width="1.035" fill="#aaa"/>
<ellipse cx="241.4" cy="87" rx="3.6" ry="2.1" stroke="#737373" stroke-width="1.15" fill="#222"/>
<polyline points="204.5,57 200.7,55.8 200.7,91 204,92" stroke="#7d7d7d" stroke-width="0.92" fill="none"/>
<polyline points="250.5,56.5 254.5,53.5 254.5,84 251,85.5" stroke="#7d7d7d" stroke-width="0.92" fill="none"/>
<path d="M185,121 C184,114 188,109 194,107 L210,101 C218,99 228,100 233,103 C238,106 240,110 239,114 C238,119 236,122 232,125 L215,134 C209,137 199,137 193,135 C187,133 185,127 185,121 Z" stroke="#737373" stroke-width="1.15" fill="#fff" />
<path d="M186,124 C188,130 194,132 200,132 L214,130 C222,128 232,122 238,116" stroke="#737373" stroke-width="0.92" fill="none" />
<path d="M189,118 C189,113 192,110 197,109 L211,104 C219,102 227,102 231,105 C235,108 236,112 233,116 L215,126 C208,129 198,130 193,128 C190,126 189,122 189,118 Z" stroke="#737373" stroke-width="0.805" fill="none" />
<ellipse cx="201" cy="117" rx="5" ry="3" stroke="#737373" stroke-width="0.92" fill="none" transform="rotate(-20 201 117)"/>
<ellipse cx="214" cy="112" rx="4.5" ry="2.6" stroke="#737373" stroke-width="0.92" fill="none" transform="rotate(-20 214 112)"/>
<ellipse cx="227" cy="108" rx="4" ry="2.4" stroke="#737373" stroke-width="0.92" fill="none" transform="rotate(-20 227 108)"/>
<ellipse cx="208" cy="124" rx="4" ry="2.2" stroke="#737373" stroke-width="0.805" fill="none" transform="rotate(-20 208 124)"/>
<ellipse cx="224" cy="118" rx="3.5" ry="2" stroke="#737373" stroke-width="0.805" fill="none" transform="rotate(-20 224 118)"/>
<ellipse cx="198" cy="107.5" rx="3" ry="1.6" stroke="#737373" stroke-width="0.805" fill="none" transform="rotate(-20 198 107.5)"/>
<line x1="201" y1="107.8" x2="201" y2="117.75" stroke="#8b8b8b" stroke-width="0.69"/>
<line x1="208" y1="106.4" x2="208" y2="116.0" stroke="#8b8b8b" stroke-width="0.69"/>
<line x1="214" y1="105.2" x2="214" y2="114.5" stroke="#8b8b8b" stroke-width="0.69"/>
<line x1="221" y1="103.8" x2="221" y2="112.75" stroke="#8b8b8b" stroke-width="0.69"/>
<line x1="228" y1="102.4" x2="228" y2="111.0" stroke="#8b8b8b" stroke-width="0.69"/>
<line x1="214.3" y1="96" x2="214.3" y2="119.5" stroke="#7d7d7d" stroke-width="0.805"/>
<line x1="226.6" y1="104.7" x2="226.6" y2="115.8" stroke="#7d7d7d" stroke-width="0.805"/>
<path d="M201,128 L201,135 M207,128 L207,135.5" stroke="#8b8b8b" stroke-width="0.69" fill="none" />
<path d="M193,117 C195,112 200,110 204,111 M218,106 C222,104 228,104 231,107 M196,124 C200,127 206,127 211,125 M218,121 C223,119 228,116 230,113" stroke="#7d7d7d" stroke-width="0.805" fill="none" />
<path d="M205,108 L209,118 M222,103.5 L225,113 M199,112 L196,120 M230,109 L233,118" stroke="#8b8b8b" stroke-width="0.69" fill="none" />
<ellipse cx="215" cy="119" rx="2.2" ry="1.5" stroke="#737373" stroke-width="0.805" fill="none"/>
<ellipse cx="232" cy="118" rx="2" ry="1.3" stroke="#737373" stroke-width="0.805" fill="none"/>
<ellipse cx="195" cy="115" rx="1.8" ry="1.2" stroke="#737373" stroke-width="0.805" fill="none"/>
<ellipse cx="191.6" cy="130" rx="2.2" ry="1.7600000000000002" fill="#222"/>
<ellipse cx="213" cy="131.8" rx="1.6" ry="1.2800000000000002" fill="#222"/>
<ellipse cx="226" cy="124.4" rx="1.6" ry="1.2800000000000002" fill="#222"/>
<path d="M173,148 L181.5,152.5 L183,150 L175,145.5" stroke="#737373" stroke-width="1.035" fill="#fff" />
<ellipse cx="172.5" cy="141.5" rx="6.3" ry="7.2" stroke="#737373" stroke-width="1.035" fill="#fff" transform="rotate(-20 172.5 141.5)"/>
<path d="M162,139 L170,134.5 L175,148.5 L167,153 Z" stroke="#737373" stroke-width="0.0" fill="#fff" />
<line x1="162.4" y1="138.7" x2="170.2" y2="134.5" stroke="#737373" stroke-width="1.035"/>
<line x1="167" y1="152.7" x2="174.8" y2="148.5" stroke="#737373" stroke-width="1.035"/>
<ellipse cx="164.7" cy="145.7" rx="6.3" ry="7.2" stroke="#737373" stroke-width="1.15" fill="#fff" transform="rotate(-20 164.7 145.7)"/>
<ellipse cx="164.7" cy="145.7" rx="3.6" ry="4.2" stroke="#737373" stroke-width="0.92" fill="none" transform="rotate(-20 164.7 145.7)"/>
<ellipse cx="164.7" cy="145.7" rx="2" ry="2.4" stroke="#737373" stroke-width="0.69" fill="none" transform="rotate(-20 164.7 145.7)"/>
<path d="M194,152 C197,146 206,143 214,143 L226,140 C234,139 239,145 236,151 L228,163 C224,168 214,169 205,168 C196,166 191,159 194,152 Z" stroke="#737373" stroke-width="1.15" fill="#fff" />
<ellipse cx="207.5" cy="156.5" rx="10" ry="7.5" stroke="#737373" stroke-width="1.035" fill="none"/>
<ellipse cx="227.5" cy="147.5" rx="4" ry="3" stroke="#737373" stroke-width="0.92" fill="none"/>
<ellipse cx="198" cy="150" rx="1" ry="0.8" stroke="#737373" stroke-width="0.69" fill="none"/>
<ellipse cx="216" cy="145" rx="1" ry="0.8" stroke="#737373" stroke-width="0.69" fill="none"/>
<ellipse cx="235" cy="147" rx="1" ry="0.8" stroke="#737373" stroke-width="0.69" fill="none"/>
<ellipse cx="225" cy="164" rx="1" ry="0.8" stroke="#737373" stroke-width="0.69" fill="none"/>
<ellipse cx="198" cy="163" rx="1" ry="0.8" stroke="#737373" stroke-width="0.69" fill="none"/>
<ellipse cx="235" cy="135.5" rx="8.5" ry="3.2" stroke="#737373" stroke-width="1.15" fill="#fff" transform="rotate(-30 235 135.5)"/>
<ellipse cx="235" cy="135.5" rx="4" ry="1.3" stroke="#737373" stroke-width="0.805" fill="none" transform="rotate(-30 235 135.5)"/>
<ellipse cx="249.5" cy="145" rx="7" ry="3" stroke="#737373" stroke-width="1.15" fill="#fff" transform="rotate(-25 249.5 145)"/>
<path d="M243.5,147.5 C247,150 250,155 251,161 L265,156 C263,150 259,145 255.5,142.5" stroke="#737373" stroke-width="1.15" fill="#fff" />
<ellipse cx="258" cy="159" rx="8" ry="3" stroke="#737373" stroke-width="1.15" fill="#fff" transform="rotate(-25 258 159)"/>
<ellipse cx="249.5" cy="145" rx="7" ry="3" stroke="#737373" stroke-width="1.15" fill="#fff" transform="rotate(-25 249.5 145)"/>
<ellipse cx="249.5" cy="145" rx="4.5" ry="1.8" stroke="#737373" stroke-width="0.805" fill="none" transform="rotate(-25 249.5 145)"/>
<ellipse cx="259.5" cy="172" rx="8.5" ry="3.3" stroke="#737373" stroke-width="1.15" fill="#fff" transform="rotate(-25 259.5 172)"/>
<ellipse cx="259.5" cy="172" rx="4.5" ry="1.5" stroke="#737373" stroke-width="0.805" fill="none" transform="rotate(-25 259.5 172)"/>
<rect x="262.5" y="138.5" width="3" height="4.5" rx="1" stroke="#606060" stroke-width="1.035" fill="#fff"/>
<ellipse cx="264" cy="149" rx="1" ry="0.8" fill="#222"/>
<rect x="185" y="172.5" width="3.6" height="3.5" stroke="#6e6e6e" stroke-width="0.92" fill="#fff"/>
<ellipse cx="186.8" cy="172.5" rx="2.4" ry="1.3" stroke="#737373" stroke-width="1.035" fill="#fff"/>
<rect x="185.1" y="176.3" width="3.4" height="3.6" rx="0.8" fill="#222"/>
<rect x="185" y="191" width="3.6" height="3.5" stroke="#6e6e6e" stroke-width="0.92" fill="#fff"/>
<ellipse cx="186.8" cy="191" rx="2.4" ry="1.3" stroke="#737373" stroke-width="1.035" fill="#fff"/>
<rect x="185.1" y="194.8" width="3.4" height="3.6" rx="0.8" fill="#222"/>
<ellipse cx="186.4" cy="184" rx="1.6" ry="1.1" stroke="#525252" stroke-width="1.15" fill="#555"/>
<ellipse cx="186.4" cy="202.6" rx="1.7" ry="1" stroke="#525252" stroke-width="1.15" fill="#444"/>
<line x1="186.4" y1="203.5" x2="186.4" y2="210" stroke="#7d7d7d" stroke-width="0.92"/>
<polygon points="191.5,208.5 210,221.8 243,203.5 236,197 220,204" stroke="#737373" stroke-width="1.15" fill="#fff"/>
<ellipse cx="196" cy="210" rx="1.2" ry="0.9" stroke="#737373" stroke-width="0.805" fill="none"/>
<ellipse cx="210" cy="219" rx="1.2" ry="0.9" stroke="#737373" stroke-width="0.805" fill="none"/>
<ellipse cx="239" cy="203.5" rx="1.2" ry="0.9" stroke="#737373" stroke-width="0.805" fill="none"/>
<path d="M193.5,184 L198,211 C201,214 207,214.5 213,214 C220,213 226,210 230,206.5 L238.5,173.5 Z" stroke="#737373" stroke-width="1.15" fill="#fff" />
<path d="M194.2,190.2 C197.2,197.7 204.1,198.2 212.1,197.7 C221.1,197.2 232.8,188.3 236.8,184.3" stroke="#737373" stroke-width="1.035" fill="none" />
<path d="M194.2,191.3 C197.2,198.8 204.1,199.3 212.1,198.8 C221.1,198.3 232.8,189.4 236.8,185.4" stroke="#737373" stroke-width="0.69" fill="none" />
<path d="M194.9,193.9 C197.9,200.5 204.3,201.0 212.3,200.5 C221.3,200.0 231.7,192.1 235.7,188.1" stroke="#737373" stroke-width="1.035" fill="none" />
<path d="M194.9,195.0 C197.9,201.6 204.3,202.1 212.3,201.6 C221.3,201.1 231.7,193.2 235.7,189.2" stroke="#737373" stroke-width="0.69" fill="none" />
<path d="M195.6,197.6 C198.6,203.3 204.4,203.8 212.4,203.3 C221.4,202.8 230.6,195.9 234.6,191.9" stroke="#737373" stroke-width="1.035" fill="none" />
<path d="M195.6,198.7 C198.6,204.4 204.4,204.9 212.4,204.4 C221.4,203.9 230.6,197.0 234.6,193.0" stroke="#737373" stroke-width="0.69" fill="none" />
<path d="M196.2,201.4 C199.2,206.2 204.6,206.7 212.6,206.2 C221.6,205.7 229.4,199.6 233.4,195.6" stroke="#737373" stroke-width="1.035" fill="none" />
<path d="M196.2,202.5 C199.2,207.3 204.6,207.8 212.6,207.3 C221.6,206.8 229.4,200.7 233.4,196.7" stroke="#737373" stroke-width="0.69" fill="none" />
<path d="M196.9,205.1 C199.9,209.0 204.7,209.5 212.7,209.0 C221.7,208.5 228.3,203.4 232.3,199.4" stroke="#737373" stroke-width="1.035" fill="none" />
<path d="M196.9,206.2 C199.9,210.1 204.7,210.6 212.7,210.1 C221.7,209.6 228.3,204.5 232.3,200.5" stroke="#737373" stroke-width="0.69" fill="none" />
<path d="M197.6,208.8 C200.6,211.8 204.9,212.3 212.9,211.8 C221.9,211.3 227.2,207.2 231.2,203.2" stroke="#737373" stroke-width="1.035" fill="none" />
<path d="M197.6,209.9 C200.6,212.9 204.9,213.4 212.9,212.9 C221.9,212.4 227.2,208.3 231.2,204.3" stroke="#737373" stroke-width="0.69" fill="none" />
<path d="M193.5,184 C193.5,180 195,177.5 197,177 C199,174.5 202,173.5 205,173.5 L227,168.5 C231,168 234.5,168 236,169.5 C238.5,171.5 238.5,176 237.5,180 C236,184 233,186.5 229,188 C224,191 219,193 215,193 C210,193.5 206,193 203,192 C199,191 195.5,189 193.5,184 Z" stroke="#737373" stroke-width="1.15" fill="#fff" />
<path d="M195.5,184 C195.5,179 199,176 205,175.5 L227,170.5 C232,170 236,171 236,174.5 C236,179 233,184 228,186.5 C223,189.5 218,191 214,191 C206,191.5 197,190 195.5,184 Z" stroke="#737373" stroke-width="0.805" fill="none" />
<ellipse cx="210.5" cy="184" rx="12" ry="7.6" stroke="#737373" stroke-width="1.035" fill="none" transform="rotate(-8 210.5 184)"/>
<ellipse cx="227.3" cy="174" rx="6.5" ry="3.5" stroke="#737373" stroke-width="0.92" fill="none" transform="rotate(-10 227.3 174)"/>
<ellipse cx="197" cy="181" rx="1" ry="0.8" stroke="#737373" stroke-width="0.69" fill="none"/>
<ellipse cx="216.5" cy="173" rx="1" ry="0.8" stroke="#737373" stroke-width="0.69" fill="none"/>
<ellipse cx="232" cy="169.5" rx="1" ry="0.8" stroke="#737373" stroke-width="0.69" fill="none"/>
<ellipse cx="225.5" cy="180" rx="1" ry="0.8" stroke="#737373" stroke-width="0.69" fill="none"/>
<ellipse cx="211.5" cy="192.5" rx="1" ry="0.8" stroke="#737373" stroke-width="0.69" fill="none"/>
<ellipse cx="204" cy="230.5" rx="7.7" ry="3" stroke="#606060" stroke-width="1.15" fill="none"/>
<ellipse cx="204" cy="230.5" rx="6.6" ry="2.3" stroke="#737373" stroke-width="0.805" fill="none"/>
<ellipse cx="204" cy="243.5" rx="7.7" ry="3" stroke="#606060" stroke-width="1.15" fill="none"/>
<ellipse cx="204" cy="243.5" rx="6.6" ry="2.3" stroke="#737373" stroke-width="0.805" fill="none"/>
<ellipse cx="204" cy="255" rx="7.7" ry="3" stroke="#606060" stroke-width="1.15" fill="none"/>
<ellipse cx="204" cy="255" rx="6.6" ry="2.3" stroke="#737373" stroke-width="0.805" fill="none"/>
<ellipse cx="204" cy="269" rx="7.7" ry="3" stroke="#606060" stroke-width="1.15" fill="none"/>
<ellipse cx="204" cy="269" rx="6.6" ry="2.3" stroke="#737373" stroke-width="0.805" fill="none"/>
<ellipse cx="233" cy="231.7" rx="5.9" ry="2.4" stroke="#606060" stroke-width="1.15" fill="none"/>
<ellipse cx="233" cy="231.7" rx="4.9" ry="1.8" stroke="#737373" stroke-width="0.805" fill="none"/>
<ellipse cx="233" cy="241" rx="5.9" ry="2.4" stroke="#606060" stroke-width="1.15" fill="none"/>
<ellipse cx="233" cy="241" rx="4.9" ry="1.8" stroke="#737373" stroke-width="0.805" fill="none"/>
<ellipse cx="233" cy="249" rx="5.9" ry="2.4" stroke="#606060" stroke-width="1.15" fill="none"/>
<ellipse cx="233" cy="249" rx="4.9" ry="1.8" stroke="#737373" stroke-width="0.805" fill="none"/>
<ellipse cx="233" cy="258.7" rx="5.9" ry="2.4" stroke="#606060" stroke-width="1.15" fill="none"/>
<ellipse cx="233" cy="258.7" rx="4.9" ry="1.8" stroke="#737373" stroke-width="0.805" fill="none"/>
<polyline points="184,223 181,223 181,268 184,268" stroke="#7d7d7d" stroke-width="0.92" fill="none"/>
<line x1="181" y1="225" x2="184" y2="225" stroke="#8b8b8b" stroke-width="0.805"/>
<line x1="181" y1="237.6" x2="184" y2="237.6" stroke="#8b8b8b" stroke-width="0.805"/>
<line x1="181" y1="250.5" x2="184" y2="250.5" stroke="#8b8b8b" stroke-width="0.805"/>
<line x1="181" y1="261" x2="184" y2="261" stroke="#8b8b8b" stroke-width="0.805"/>
<polyline points="249,224 252,223 252,259 249,259" stroke="#7d7d7d" stroke-width="0.92" fill="none"/>
<path d="M197,281 L197,293 C197,297 212,297 212,293 L212,281" stroke="#737373" stroke-width="1.15" fill="#fff" />
<ellipse cx="204.5" cy="281" rx="7.5" ry="3" stroke="#737373" stroke-width="1.15" fill="#fff"/>
<path d="M197,285.5 C197,289 212,289 212,285.5 M197,288 C197,291.5 212,291.5 212,288" stroke="#737373" stroke-width="0.805" fill="none" />
<path d="M227,268.5 L227,276 C227,280 239,280 239,276 L239,268.5" stroke="#737373" stroke-width="1.15" fill="#fff" />
<ellipse cx="233" cy="268.5" rx="6" ry="2.5" stroke="#737373" stroke-width="1.15" fill="#fff"/>
<path d="M227,272 C227,275 239,275 239,272" stroke="#737373" stroke-width="0.805" fill="none" />
<ellipse cx="220" cy="271" rx="0.9" ry="0.7200000000000001" fill="#222"/>
<ellipse cx="203" cy="280" rx="0" ry="0.0" fill="#222"/>
<path d="M184,295 L192,290 M185,297 L193,292" stroke="#737373" stroke-width="1.035" fill="none" />
<ellipse cx="192.5" cy="291" rx="1.2" ry="1.5" stroke="#737373" stroke-width="0.92" fill="none"/>
<ellipse cx="182" cy="297" rx="1" ry="0.8" fill="#222"/>
<path d="M245,264 L254,261 M246,266.5 L255,263.5" stroke="#737373" stroke-width="1.035" fill="none" />
<ellipse cx="254.5" cy="262" rx="1" ry="1.5" stroke="#737373" stroke-width="0.92" fill="none"/>
<ellipse cx="243" cy="266" rx="1" ry="0.8" fill="#222"/>
<ellipse cx="214" cy="283" rx="0.9" ry="0.7200000000000001" fill="#222"/>
<ellipse cx="226" cy="270" rx="0.9" ry="0.7200000000000001" fill="#222"/>
<ellipse cx="196" cy="312.5" rx="3" ry="3.8" stroke="#737373" stroke-width="1.035" fill="#fff" transform="rotate(-15 196 312.5)"/>
<path d="M191,311.7 L196,308.7 L196,316.3 L191,319.3 Z" stroke="#737373" stroke-width="0.0" fill="#fff" />
<line x1="191" y1="311.7" x2="196" y2="308.7" stroke="#737373" stroke-width="1.035"/>
<line x1="191" y1="319.3" x2="196" y2="316.3" stroke="#737373" stroke-width="1.035"/>
<ellipse cx="191" cy="315.5" rx="3" ry="3.8" stroke="#737373" stroke-width="1.035" fill="#fff" transform="rotate(-15 191 315.5)"/>
<ellipse cx="191" cy="315.5" rx="1.6500000000000001" ry="2.09" stroke="#737373" stroke-width="0.805" fill="none" transform="rotate(-15 191 315.5)"/>
<ellipse cx="226" cy="297.5" rx="2.8" ry="3.6" stroke="#737373" stroke-width="1.035" fill="#fff" transform="rotate(-15 226 297.5)"/>
<path d="M221,296.9 L226,293.9 L226,301.1 L221,304.1 Z" stroke="#737373" stroke-width="0.0" fill="#fff" />
<line x1="221" y1="296.9" x2="226" y2="293.9" stroke="#737373" stroke-width="1.035"/>
<line x1="221" y1="304.1" x2="226" y2="301.1" stroke="#737373" stroke-width="1.035"/>
<ellipse cx="221" cy="300.5" rx="2.8" ry="3.6" stroke="#737373" stroke-width="1.035" fill="#fff" transform="rotate(-15 221 300.5)"/>
<ellipse cx="221" cy="300.5" rx="1.54" ry="1.9800000000000002" stroke="#737373" stroke-width="0.805" fill="none" transform="rotate(-15 221 300.5)"/>
<ellipse cx="208.7" cy="306.7" rx="3.5" ry="4.2" stroke="#737373" stroke-width="1.035" fill="#fff" transform="rotate(-15 208.7 306.7)"/>
<path d="M204.5,304.5 L208.7,302.5 L208.7,310.9 L204.5,312.9 Z" stroke="#737373" stroke-width="0.0" fill="#fff" />
<line x1="204.5" y1="304.5" x2="208.7" y2="302.5" stroke="#737373" stroke-width="1.035"/>
<line x1="204.5" y1="312.9" x2="208.7" y2="310.9" stroke="#737373" stroke-width="1.035"/>
<ellipse cx="204.5" cy="308.7" rx="3.5" ry="4.2" stroke="#737373" stroke-width="1.035" fill="#fff" transform="rotate(-15 204.5 308.7)"/>
<ellipse cx="204.5" cy="308.7" rx="1.9250000000000003" ry="2.3100000000000005" stroke="#737373" stroke-width="0.805" fill="none" transform="rotate(-15 204.5 308.7)"/>
<line x1="201.5" y1="313.55" x2="201.5" y2="336.55" stroke="#737373" stroke-width="0.977"/>
<line x1="206.0" y1="311.525" x2="206.0" y2="334.525" stroke="#737373" stroke-width="0.977"/>
<line x1="210.5" y1="309.5" x2="210.5" y2="332.5" stroke="#737373" stroke-width="0.977"/>
<path d="M197.5,335.7 L211.5,330.2 L215.0,333.7 L215.0,344.7 C215.0,350.7 210.5,354.7 205.5,354.7 C200.5,354.7 197.5,350.7 197.5,345.7 Z" stroke="#737373" stroke-width="1.092" fill="#fff" />
<path d="M197.5,342.2 L215.0,337.7" stroke="#737373" stroke-width="0.92" fill="none" />
<path d="M197.5,335.7 L201.0,339.2 L215.0,333.7" stroke="#737373" stroke-width="0.805" fill="none" />
<ellipse cx="206.5" cy="346.7" rx="4.3" ry="3.6" stroke="#737373" stroke-width="0.92" fill="none" transform="rotate(-15 206.5 346.7)"/>
<rect x="198.7" y="340.0" width="2.6" height="2.4" stroke="#6e6e6e" stroke-width="0.69" fill="#fff"/>
<rect x="210.7" y="336.0" width="2.6" height="2.4" stroke="#6e6e6e" stroke-width="0.69" fill="#fff"/>
<rect x="198.7" y="343.5" width="2.6" height="2.4" stroke="#6e6e6e" stroke-width="0.69" fill="#fff"/>
<rect x="210.7" y="339.5" width="2.6" height="2.4" stroke="#6e6e6e" stroke-width="0.69" fill="#fff"/>
<ellipse cx="237.1" cy="291" rx="3.5" ry="4.2" stroke="#737373" stroke-width="1.035" fill="#fff" transform="rotate(-15 237.1 291)"/>
<path d="M232.9,288.8 L237.1,286.8 L237.1,295.2 L232.9,297.2 Z" stroke="#737373" stroke-width="0.0" fill="#fff" />
<line x1="232.9" y1="288.8" x2="237.1" y2="286.8" stroke="#737373" stroke-width="1.035"/>
<line x1="232.9" y1="297.2" x2="237.1" y2="295.2" stroke="#737373" stroke-width="1.035"/>
<ellipse cx="232.9" cy="293" rx="3.5" ry="4.2" stroke="#737373" stroke-width="1.035" fill="#fff" transform="rotate(-15 232.9 293)"/>
<ellipse cx="232.9" cy="293" rx="1.9250000000000003" ry="2.3100000000000005" stroke="#737373" stroke-width="0.805" fill="none" transform="rotate(-15 232.9 293)"/>
<line x1="229.9" y1="297.85" x2="229.9" y2="320.85" stroke="#737373" stroke-width="0.977"/>
<line x1="234.4" y1="295.825" x2="234.4" y2="318.825" stroke="#737373" stroke-width="0.977"/>
<line x1="238.9" y1="293.8" x2="238.9" y2="316.8" stroke="#737373" stroke-width="0.977"/>
<path d="M225.9,320 L239.9,314.5 L243.4,318 L243.4,329 C243.4,335 238.9,339 233.9,339 C228.9,339 225.9,335 225.9,330 Z" stroke="#737373" stroke-width="1.092" fill="#fff" />
<path d="M225.9,326.5 L243.4,322" stroke="#737373" stroke-width="0.92" fill="none" />
<path d="M225.9,320 L229.4,323.5 L243.4,318" stroke="#737373" stroke-width="0.805" fill="none" />
<ellipse cx="234.9" cy="331" rx="4.3" ry="3.6" stroke="#737373" stroke-width="0.92" fill="none" transform="rotate(-15 234.9 331)"/>
<rect x="227.1" y="324.3" width="2.6" height="2.4" stroke="#6e6e6e" stroke-width="0.69" fill="#fff"/>
<rect x="239.1" y="320.3" width="2.6" height="2.4" stroke="#6e6e6e" stroke-width="0.69" fill="#fff"/>
<rect x="227.1" y="327.8" width="2.6" height="2.4" stroke="#6e6e6e" stroke-width="0.69" fill="#fff"/>
<rect x="239.1" y="323.8" width="2.6" height="2.4" stroke="#6e6e6e" stroke-width="0.69" fill="#fff"/>
<path d="M186,346.5 C191,343.5 196,347.5 196,352.5 C196,357.5 191,360.5 186,358.5" stroke="#737373" stroke-width="1.035" fill="none" />
<path d="M187.5,349.5 C190,348.5 193,350.0 193,353.0 C193,356.0 190,357.5 187.5,356.5" stroke="#737373" stroke-width="0.92" fill="none" />
<path d="M186,346.5 L183,348.0 L184.5,351.0 L187.5,349.5 M186,358.5 L183,360.0 L184.5,357.0 L187.5,356.5" stroke="#737373" stroke-width="0.92" fill="none" />
<path d="M248.5,320.5 C253.5,317.5 258.5,321.5 258.5,326.5 C258.5,331.5 253.5,334.5 248.5,332.5" stroke="#737373" stroke-width="1.035" fill="none" />
<path d="M250.0,323.5 C252.5,322.5 255.5,324.0 255.5,327.0 C255.5,330.0 252.5,331.5 250.0,330.5" stroke="#737373" stroke-width="0.92" fill="none" />
<path d="M248.5,320.5 L245.5,322.0 L247.0,325.0 L250.0,323.5 M248.5,332.5 L245.5,334.0 L247.0,331.0 L250.0,330.5" stroke="#737373" stroke-width="0.92" fill="none" />
<path d="M190,329 L198.3,333 L198.3,339.4 L190,335.4 Z" stroke="#737373" stroke-width="0.92" fill="none" />
<line x1="183" y1="346" x2="183" y2="358" stroke="#737373" stroke-width="0.805"/>
<path d="M222,345 L226,352 L226,362 M226,352 L236,348 M232,344 L235,352" stroke="#737373" stroke-width="1.035" fill="none" />
<ellipse cx="223" cy="344" rx="1" ry="0.8" fill="#222"/>
<ellipse cx="238" cy="347" rx="1" ry="0.8" fill="#222"/>
<rect x="222" y="358" width="3.5" height="5" stroke="#525252" stroke-width="1.15" fill="#888"/>
<path d="M198,372 L203,378 L203,389 M203,378 L211,375 M207,370 L210,380" stroke="#737373" stroke-width="1.035" fill="none" />
<ellipse cx="211" cy="374" rx="1" ry="0.8" fill="#222"/>
<ellipse cx="193" cy="384" rx="1.1" ry="0.8800000000000001" fill="#222"/>
<rect x="190" y="394" width="3.6" height="4.8" stroke="#525252" stroke-width="1.15" fill="#777"/>
<ellipse cx="193" cy="373" rx="0.9" ry="0.7200000000000001" fill="#222"/>
<path d="M195,409.5 L214,400 C216,399 218.5,399 220.5,400.5 L228,404 C230,405.5 229.5,407 227.5,408.5 L208,418 C206,419 203.5,419 201.5,417.5 L196,413.5 C194,412 193.5,410.5 195,409.5 Z" stroke="#737373" stroke-width="1.265" fill="#fff" />
<path d="M199.5,410 L215.5,402.5 L224.5,405.5 L207.5,414.5 Z" stroke="#737373" stroke-width="0.92" fill="none" />
<ellipse cx="201" cy="410" rx="0.8" ry="0.6400000000000001" fill="#222"/>
<ellipse cx="222" cy="405" rx="0.8" ry="0.6400000000000001" fill="#222"/>
<path d="M191.8,436.2 L207.4,442.1 L231.6,428.1 L228,420 C227,418 225,417.5 223,418 Z" stroke="#737373" stroke-width="1.15" fill="#fff" />
<path d="M191.8,436.2 L190.2,455.5 L209,466.3 L207.4,442.1 Z" stroke="#737373" stroke-width="1.15" fill="#fff" />
<path d="M207.4,442.1 L231.6,428.1 L233.2,452.3 L209,466.3 Z" stroke="#737373" stroke-width="1.15" fill="#fff" />
<path d="M201.5,432.5 L225,420.5 L229,427 L206,439.5 Z" stroke="#737373" stroke-width="0.92" fill="none" />
<path d="M204,433 L224.5,422.5" stroke="#737373" stroke-width="0.805" fill="none" />
<line x1="194.5" y1="434.8" x2="207.4" y2="442.1" stroke="#9a9a9a" stroke-width="0.69"/>
<ellipse cx="197.5" cy="446" rx="6" ry="7" stroke="#737373" stroke-width="1.15" fill="#fff" transform="rotate(-5 197.5 446)"/>
<ellipse cx="197.8" cy="446.3" rx="4.3" ry="5.3" stroke="#737373" stroke-width="0.92" fill="none" transform="rotate(-5 197.8 446.3)"/>
<path d="M212.8,445 L227.8,437 L227.8,452 L212.8,460 Z" stroke="#737373" stroke-width="1.035" fill="none" />
<path d="M214.8,446.3 L226,440.3 L226,450.8 L214.8,457 Z" stroke="#737373" stroke-width="0.805" fill="none" />
<ellipse cx="211.2" cy="463.6" rx="1.5" ry="1.2000000000000002" fill="#222"/>
<ellipse cx="231.6" cy="452.8" rx="1.5" ry="1.2000000000000002" fill="#222"/>
<ellipse cx="191" cy="456" rx="1" ry="0.8" fill="#222"/>
<path d="M198,455 L203,462" stroke="#525252" stroke-width="2.07" fill="none" />
<path d="M200,456.5 L196,460" stroke="#606060" stroke-width="1.15" fill="none" />
<line x1="235.4" y1="426.5" x2="235.4" y2="450.2" stroke="#6e6e6e" stroke-width="1.035"/>
<ellipse cx="235.4" cy="427.5" rx="1.6" ry="1.2800000000000002" fill="#222"/>
<ellipse cx="235.4" cy="436" rx="1.6" ry="1.2800000000000002" fill="#222"/>
<ellipse cx="235.4" cy="442.5" rx="1.6" ry="1.2800000000000002" fill="#222"/>
<ellipse cx="235.4" cy="448.5" rx="1.6" ry="1.2800000000000002" fill="#222"/>
<ellipse cx="186.5" cy="462.6" rx="1.1" ry="0.8800000000000001" fill="#222"/>
<ellipse cx="201.5" cy="472.3" rx="1" ry="0.8" stroke="#737373" stroke-width="0.805" fill="none"/>
<ellipse cx="195" cy="475.5" rx="1.2" ry="0.96" fill="#222"/>
<line x1="187" y1="462.6" x2="201" y2="467" stroke="#a8a8a8" stroke-width="0.575"/>
<line x1="195" y1="475.5" x2="202" y2="472" stroke="#a8a8a8" stroke-width="0.575"/>
<polygon points="240.2,463.7 254.2,456.1 256.3,464.7 242.4,472.3" stroke="#606060" stroke-width="1.265" fill="#fff"/>
<polygon points="242.46,463.84 252.54,458.37 254.05,464.56 244.05,470.03" stroke="#6e6e6e" stroke-width="0.92" fill="none"/>
<polygon points="255.3,472.3 270.3,463.7 272.5,474.4 257.4,482" stroke="#606060" stroke-width="1.265" fill="#fff"/>
<polygon points="257.44,472.5 268.69,466.05 270.34,474.07 259.02,479.77" stroke="#6e6e6e" stroke-width="0.92" fill="none"/>
<line x1="272" y1="474" x2="280" y2="478.5" stroke="#8b8b8b" stroke-width="0.69"/>
<ellipse cx="280.5" cy="478.8" rx="0.9" ry="0.7200000000000001" fill="#222"/>
<path d="M284,481 L289.5,484.5" stroke="#525252" stroke-width="2.07" fill="none" />
<ellipse cx="176.5" cy="459.2" rx="6.8" ry="9" stroke="#606060" stroke-width="1.15" fill="#fff" transform="rotate(25 176.5 459.2)"/>
<ellipse cx="176.5" cy="459.2" rx="4.8" ry="6.8" stroke="#737373" stroke-width="0.92" fill="none" transform="rotate(25 176.5 459.2)"/>
<ellipse cx="181.76" cy="461.87" rx="0.6" ry="0.6" stroke="#737373" stroke-width="0.575" fill="none"/>
<ellipse cx="175.53" cy="466.88" rx="0.6" ry="0.6" stroke="#737373" stroke-width="0.575" fill="none"/>
<ellipse cx="170.9" cy="459.2" rx="0.6" ry="0.6" stroke="#737373" stroke-width="0.575" fill="none"/>
<ellipse cx="175.53" cy="451.52" rx="0.6" ry="0.6" stroke="#737373" stroke-width="0.575" fill="none"/>
<ellipse cx="180.79" cy="454.19" rx="0.6" ry="0.6" stroke="#737373" stroke-width="0.575" fill="none"/>
<ellipse cx="161.3" cy="466.9" rx="6.5" ry="8.8" stroke="#606060" stroke-width="1.38" fill="#fff" transform="rotate(25 161.3 466.9)"/>
<ellipse cx="161.3" cy="466.9" rx="4.6" ry="6.6" stroke="#737373" stroke-width="1.035" fill="none" transform="rotate(25 161.3 466.9)"/>
<ellipse cx="162.6" cy="466.3" rx="5" ry="7.2" stroke="#737373" stroke-width="0.69" fill="none" transform="rotate(25 162.6 466.3)"/>
<ellipse cx="147.5" cy="475.4" rx="6.5" ry="8.8" stroke="#606060" stroke-width="1.15" fill="#fff" transform="rotate(25 147.5 475.4)"/>
<ellipse cx="147.5" cy="475.4" rx="4.5" ry="6.4" stroke="#737373" stroke-width="0.92" fill="none" transform="rotate(25 147.5 475.4)"/>
<path d="M122,484 C122,478 127,474.5 132,475 L138,478 C141,482 141,489 137,493 C133,496 126,495.5 123,491 C122,489 122,486.5 122,484 Z" stroke="#737373" stroke-width="1.15" fill="#fff" />
<path d="M126,477 L121.5,486 L125,494 M138,478.5 L140,489" stroke="#737373" stroke-width="0.805" fill="none" />
<ellipse cx="131.5" cy="485" rx="4.5" ry="5.5" stroke="#737373" stroke-width="0.92" fill="none" transform="rotate(25 131.5 485)"/>
<ellipse cx="131.5" cy="485" rx="2.2" ry="2.8" stroke="#737373" stroke-width="0.805" fill="none" transform="rotate(25 131.5 485)"/>
<ellipse cx="126" cy="473.5" rx="1.6" ry="1.2800000000000002" fill="#222"/>
<line x1="126" y1="473.5" x2="125" y2="470" stroke="#6e6e6e" stroke-width="0.92"/>
<ellipse cx="141.3" cy="460.8" rx="1.7" ry="1.36" fill="#222"/>
<path d="M132.5,465.5 L137,463" stroke="#525252" stroke-width="1.955" fill="none" />
<path d="M117,499.5 L121.5,497" stroke="#525252" stroke-width="1.955" fill="none" />
<ellipse cx="124.4" cy="494.6" rx="1.1" ry="0.8800000000000001" fill="#222"/>
<path d="M272,393 C276,388.5 282.5,389.5 284.5,395 C286.5,401 284,409 279,411.5 C275,413 271.5,410 272.5,405 C274,401 275,397 272,393 Z" stroke="#737373" stroke-width="1.035" fill="#fff" />
<path d="M275,392 C279,392 282,396 282,401 C282,405 280,409 277,410.5" stroke="#737373" stroke-width="0.805" fill="none" />
<path d="M283,393 L295.5,387 L297,391 L285,397.5 Z" stroke="#737373" stroke-width="1.035" fill="#fff" />
<path d="M288,391 L290,394.5 M291,389.5 L293,393" stroke="#8b8b8b" stroke-width="0.69" fill="none" />
<path d="M260,402.5 L271.5,397 L274.5,403.5 L265.5,408 Z" stroke="#737373" stroke-width="1.035" fill="#fff" />
<path d="M256,409 C256,403.5 260.5,401 265,402.5 L268.5,405 C271,409 270.5,415.5 265.5,418 C260,419.5 256,415 256,409 Z" stroke="#737373" stroke-width="1.035" fill="#fff" />
<ellipse cx="262.5" cy="410.5" rx="3.5" ry="4.8" stroke="#737373" stroke-width="0.805" fill="none" transform="rotate(20 262.5 410.5)"/>
<line x1="262.5" y1="410.5" x2="266" y2="405" stroke="#8b8b8b" stroke-width="0.69"/>
<line x1="259" y1="409" x2="262.5" y2="410.5" stroke="#8b8b8b" stroke-width="0.69"/>
<ellipse cx="291" cy="385.8" rx="0.9" ry="0.7200000000000001" fill="#222"/>
<ellipse cx="248.5" cy="417" rx="5.2" ry="6.6" stroke="#606060" stroke-width="1.265" fill="#fff" transform="rotate(20 248.5 417)"/>
<ellipse cx="248.5" cy="417" rx="3.4" ry="4.6" stroke="#737373" stroke-width="0.92" fill="none" transform="rotate(20 248.5 417)"/>
<line x1="249.7" y1="417.0" x2="252.1" y2="417.0" stroke="#8b8b8b" stroke-width="0.69"/>
<line x1="249.1" y1="418.39" x2="250.3" y2="421.16" stroke="#8b8b8b" stroke-width="0.69"/>
<line x1="247.9" y1="418.39" x2="246.7" y2="421.16" stroke="#8b8b8b" stroke-width="0.69"/>
<line x1="247.3" y1="417.0" x2="244.9" y2="417.0" stroke="#8b8b8b" stroke-width="0.69"/>
<line x1="247.9" y1="415.61" x2="246.7" y2="412.84" stroke="#8b8b8b" stroke-width="0.69"/>
<line x1="249.1" y1="415.61" x2="250.3" y2="412.84" stroke="#8b8b8b" stroke-width="0.69"/>
<ellipse cx="307" cy="383.5" rx="5" ry="6.5" stroke="#525252" stroke-width="1.61" fill="#fff" transform="rotate(25 307 383.5)"/>
<ellipse cx="307" cy="383.5" rx="2.8" ry="4" stroke="#737373" stroke-width="0.92" fill="none" transform="rotate(25 307 383.5)"/>
<ellipse cx="326" cy="374" rx="9.5" ry="16" stroke="#737373" stroke-width="1.15" fill="#fff" transform="rotate(30 326 374)"/>
<ellipse cx="326" cy="374" rx="5.5" ry="9.5" stroke="#737373" stroke-width="0.92" fill="none" transform="rotate(30 326 374)"/>
<ellipse cx="332.5" cy="374.0" rx="1" ry="1" stroke="#737373" stroke-width="0.69" fill="none"/>
<ellipse cx="329.91072349602746" cy="385.41267819554184" rx="1" ry="1" stroke="#737373" stroke-width="0.69" fill="none"/>
<ellipse cx="321.9169600411478" cy="381.05342302750967" rx="1" ry="1" stroke="#737373" stroke-width="0.69" fill="none"/>
<ellipse cx="319.5658190319779" cy="366.94657697249033" rx="1" ry="1" stroke="#737373" stroke-width="0.69" fill="none"/>
<ellipse cx="326.10649743084684" cy="362.58732180445816" rx="1" ry="1" stroke="#737373" stroke-width="0.69" fill="none"/>
<ellipse cx="343" cy="364" rx="4.6" ry="6" stroke="#606060" stroke-width="1.265" fill="#fff" transform="rotate(20 343 364)"/>
<ellipse cx="343" cy="364" rx="2.6" ry="3.6" stroke="#737373" stroke-width="0.805" fill="none" transform="rotate(20 343 364)"/>
<ellipse cx="361" cy="353" rx="10.4" ry="13.2" stroke="#737373" stroke-width="1.15" fill="#fff" transform="rotate(20 361 353)"/>
<ellipse cx="357.5" cy="356" rx="5.5" ry="7.5" stroke="#737373" stroke-width="1.035" fill="#fff" transform="rotate(20 357.5 356)"/>
<ellipse cx="361" cy="354.5" rx="5.5" ry="7.5" stroke="#737373" stroke-width="0.92" fill="none" transform="rotate(20 361 354.5)"/>
<ellipse cx="360" cy="342" rx="1" ry="1" stroke="#737373" stroke-width="0.69" fill="none"/>
<ellipse cx="371" cy="348" rx="1" ry="1" stroke="#737373" stroke-width="0.69" fill="none"/>
<ellipse cx="366" cy="364" rx="1" ry="1" stroke="#737373" stroke-width="0.69" fill="none"/>
<ellipse cx="355" cy="362" rx="1" ry="1" stroke="#737373" stroke-width="0.69" fill="none"/>
<path d="M386,349.5 L392,346.5 L394.3,351.5 L388,354 Z" stroke="#737373" stroke-width="1.15" fill="#fff" />
<ellipse cx="386.5" cy="352" rx="1.6" ry="2.3" stroke="#525252" stroke-width="1.38" fill="none"/>
<ellipse cx="382" cy="354.4" rx="1.8" ry="1.8" stroke="#434343" stroke-width="1.725" fill="none"/>
<line x1="370" y1="353" x2="380" y2="355" stroke="#9a9a9a" stroke-width="0.69"/>
<path d="M266,206 C265.5,202 267,199 270,198 L288,190 C290,189.5 292,189.5 294,190 L322,197 C328,198.5 333,200 334,203.5 C335,208 331,215 326,219 C322,221 316,220.5 309,219.5 L272,210.5 C268.5,209.5 266.5,208.5 266,206 Z" stroke="#737373" stroke-width="1.15" fill="#fff" />
<path d="M268.5,199.2 C267.3,203.2 267.3,205.3 268.8,209.3" stroke="#737373" stroke-width="0.862" fill="none" />
<path d="M270.8,198.4 C269.6,202.4 269.6,205.9 271.1,209.9" stroke="#737373" stroke-width="0.862" fill="none" />
<path d="M273.1,197.4 C271.9,201.4 271.9,206.5 273.4,210.5" stroke="#737373" stroke-width="0.862" fill="none" />
<path d="M275.4,196.4 C274.2,200.4 274.2,207.0 275.7,211.0" stroke="#737373" stroke-width="0.862" fill="none" />
<path d="M277.7,195.4 C276.5,199.4 276.5,207.6 278.0,211.6" stroke="#737373" stroke-width="0.862" fill="none" />
<path d="M280.0,194.4 C278.8,198.4 278.8,208.1 280.3,212.1" stroke="#737373" stroke-width="0.862" fill="none" />
<path d="M282.3,193.3 C281.1,197.3 281.1,208.7 282.6,212.7" stroke="#737373" stroke-width="0.862" fill="none" />
<path d="M284.6,192.3 C283.4,196.3 283.4,209.3 284.9,213.3" stroke="#737373" stroke-width="0.862" fill="none" />
<path d="M286.9,191.3 C285.7,195.3 285.7,209.8 287.2,213.8" stroke="#737373" stroke-width="0.862" fill="none" />
<path d="M289.2,191.0 C288.0,195.0 288.0,210.4 289.5,214.4" stroke="#737373" stroke-width="0.862" fill="none" />
<path d="M291.5,191.5 C290.3,195.5 290.3,210.9 291.8,214.9" stroke="#737373" stroke-width="0.862" fill="none" />
<path d="M293.8,192.0 C292.6,196.0 292.6,211.5 294.1,215.5" stroke="#737373" stroke-width="0.862" fill="none" />
<path d="M296.1,192.5 C294.9,196.5 294.9,212.1 296.4,216.1" stroke="#737373" stroke-width="0.862" fill="none" />
<path d="M298.4,192.9 C297.2,196.9 297.2,212.6 298.7,216.6" stroke="#737373" stroke-width="0.862" fill="none" />
<path d="M300.7,193.4 C299.5,197.4 299.5,213.2 301.0,217.2" stroke="#737373" stroke-width="0.862" fill="none" />
<path d="M303.0,193.9 C301.8,197.9 301.8,213.7 303.3,217.7" stroke="#737373" stroke-width="0.862" fill="none" />
<path d="M305.3,194.4 C304.1,198.4 304.1,214.3 305.6,218.3" stroke="#737373" stroke-width="0.862" fill="none" />
<path d="M307.6,194.8 C306.4,198.8 306.4,214.9 307.9,218.9" stroke="#737373" stroke-width="0.862" fill="none" />
<path d="M309.9,195.3 C308.7,199.3 308.7,215.4 310.2,219.4" stroke="#737373" stroke-width="0.862" fill="none" />
<path d="M312.2,195.8 C311.0,199.8 311.0,216.0 312.5,220.0" stroke="#737373" stroke-width="0.862" fill="none" />
<ellipse cx="322" cy="210" rx="12.5" ry="7.5" stroke="#737373" stroke-width="1.15" fill="#fff" transform="rotate(-35 322 210)"/>
<ellipse cx="322.5" cy="210.5" rx="10" ry="5.6" stroke="#737373" stroke-width="0.92" fill="none" transform="rotate(-35 322.5 210.5)"/>
<ellipse cx="273.5" cy="196" rx="5" ry="2.3" stroke="#737373" stroke-width="0.92" fill="#fff" transform="rotate(-25 273.5 196)"/>
<ellipse cx="282" cy="193" rx="4.5" ry="2.1" stroke="#737373" stroke-width="0.92" fill="#fff" transform="rotate(-25 282 193)"/>
<ellipse cx="313.5" cy="203" rx="6.5" ry="2.8" stroke="#737373" stroke-width="0.92" fill="#fff" transform="rotate(-25 313.5 203)"/>
<ellipse cx="296.2" cy="200.3" rx="2" ry="1.6" fill="#222"/>
<ellipse cx="277.8" cy="209.5" rx="1.7" ry="1.36" fill="#222"/>
<rect x="303.6" y="174" width="2.8" height="8" rx="1" stroke="#606060" stroke-width="1.035" fill="#fff"/>
<path d="M269,230 C269,238 274,239 281,234" stroke="#606060" stroke-width="4.14" fill="none" />
<path d="M269,230 C269,238 274,239 281,234" stroke="#ffffff" stroke-width="2.07" fill="none" />
<ellipse cx="269" cy="229" rx="1.6" ry="1.2800000000000002" fill="#222"/>
<ellipse cx="281.5" cy="233.5" rx="1.5" ry="1.2000000000000002" fill="#222"/>
<ellipse cx="288.5" cy="227.5" rx="2.8" ry="2.5" stroke="#525252" stroke-width="1.495" fill="#bbb"/>
<polygon points="479.4,155.6 567.2,207.9 567.2,275.4 567.2,275.4 551,265.7501138952164 551,248.25011389521637 539.8,241.57858769931659 539.8,259.0785876993166 497,233.58382687927107 497,217.08382687927107 485.6,210.29316628701596 485.6,226.79316628701596 479.4,223.1" stroke="#6e6e6e" stroke-width="1.035" fill="#fff"/>
<line x1="479.4" y1="155.6" x2="479.4" y2="223.1" stroke="#6e6e6e" stroke-width="0.805"/>
<line x1="481.25" y1="157.7" x2="481.25" y2="224.2" stroke="#848484" stroke-width="0.632"/>
<line x1="484.28" y1="158.51" x2="484.28" y2="226.01" stroke="#6e6e6e" stroke-width="0.805"/>
<line x1="486.13" y1="160.61" x2="486.13" y2="210.61" stroke="#848484" stroke-width="0.632"/>
<line x1="489.16" y1="161.41" x2="489.16" y2="212.41" stroke="#6e6e6e" stroke-width="0.805"/>
<line x1="491.01" y1="163.52" x2="491.01" y2="213.52" stroke="#848484" stroke-width="0.632"/>
<line x1="494.03" y1="164.32" x2="494.03" y2="215.32" stroke="#6e6e6e" stroke-width="0.805"/>
<line x1="495.89" y1="166.42" x2="495.89" y2="216.42" stroke="#848484" stroke-width="0.632"/>
<line x1="498.91" y1="167.22" x2="498.91" y2="234.72" stroke="#6e6e6e" stroke-width="0.805"/>
<line x1="500.76" y1="169.33" x2="500.76" y2="235.83" stroke="#848484" stroke-width="0.632"/>
<line x1="503.79" y1="170.13" x2="503.79" y2="237.63" stroke="#6e6e6e" stroke-width="0.805"/>
<line x1="505.64" y1="172.23" x2="505.64" y2="238.73" stroke="#848484" stroke-width="0.632"/>
<line x1="508.67" y1="173.03" x2="508.67" y2="240.53" stroke="#6e6e6e" stroke-width="0.805"/>
<line x1="510.52" y1="175.14" x2="510.52" y2="241.64" stroke="#848484" stroke-width="0.632"/>
<line x1="513.54" y1="175.94" x2="513.54" y2="243.44" stroke="#6e6e6e" stroke-width="0.805"/>
<line x1="515.4" y1="178.04" x2="515.4" y2="244.54" stroke="#848484" stroke-width="0.632"/>
<line x1="518.42" y1="178.84" x2="518.42" y2="246.34" stroke="#6e6e6e" stroke-width="0.805"/>
<line x1="520.28" y1="180.95" x2="520.28" y2="247.45" stroke="#848484" stroke-width="0.632"/>
<line x1="523.3" y1="181.75" x2="523.3" y2="249.25" stroke="#6e6e6e" stroke-width="0.805"/>
<line x1="525.15" y1="183.85" x2="525.15" y2="250.35" stroke="#848484" stroke-width="0.632"/>
<line x1="528.18" y1="184.66" x2="528.18" y2="252.16" stroke="#6e6e6e" stroke-width="0.805"/>
<line x1="530.03" y1="186.76" x2="530.03" y2="253.26" stroke="#848484" stroke-width="0.632"/>
<line x1="533.06" y1="187.56" x2="533.06" y2="255.06" stroke="#6e6e6e" stroke-width="0.805"/>
<line x1="534.91" y1="189.67" x2="534.91" y2="256.17" stroke="#848484" stroke-width="0.632"/>
<line x1="537.93" y1="190.47" x2="537.93" y2="257.97" stroke="#6e6e6e" stroke-width="0.805"/>
<line x1="539.79" y1="192.57" x2="539.79" y2="259.07" stroke="#848484" stroke-width="0.632"/>
<line x1="542.81" y1="193.37" x2="542.81" y2="243.37" stroke="#6e6e6e" stroke-width="0.805"/>
<line x1="544.66" y1="195.48" x2="544.66" y2="244.48" stroke="#848484" stroke-width="0.632"/>
<line x1="547.69" y1="196.28" x2="547.69" y2="246.28" stroke="#6e6e6e" stroke-width="0.805"/>
<line x1="549.54" y1="198.38" x2="549.54" y2="247.38" stroke="#848484" stroke-width="0.632"/>
<line x1="552.57" y1="199.18" x2="552.57" y2="266.68" stroke="#6e6e6e" stroke-width="0.805"/>
<line x1="554.42" y1="201.29" x2="554.42" y2="267.79" stroke="#848484" stroke-width="0.632"/>
<line x1="557.44" y1="202.09" x2="557.44" y2="269.59" stroke="#6e6e6e" stroke-width="0.805"/>
<line x1="559.3" y1="204.19" x2="559.3" y2="270.69" stroke="#848484" stroke-width="0.632"/>
<line x1="562.32" y1="204.99" x2="562.32" y2="272.49" stroke="#6e6e6e" stroke-width="0.805"/>
<line x1="564.18" y1="207.1" x2="564.18" y2="273.6" stroke="#848484" stroke-width="0.632"/>
<line x1="567.2" y1="207.9" x2="567.2" y2="275.4" stroke="#6e6e6e" stroke-width="0.805"/>
<line x1="479.4" y1="163.1" x2="485.6" y2="166.79" stroke="#6e6e6e" stroke-width="0.805"/>
<line x1="485.6" y1="166.79" x2="497" y2="173.58" stroke="#6e6e6e" stroke-width="0.805"/>
<line x1="497" y1="173.58" x2="539.8" y2="199.08" stroke="#6e6e6e" stroke-width="0.805"/>
<line x1="539.8" y1="199.08" x2="551" y2="205.75" stroke="#6e6e6e" stroke-width="0.805"/>
<line x1="551" y1="205.75" x2="567.2" y2="215.4" stroke="#6e6e6e" stroke-width="0.805"/>
<line x1="479.4" y1="170.6" x2="485.6" y2="174.29" stroke="#6e6e6e" stroke-width="0.805"/>
<line x1="485.6" y1="174.29" x2="497" y2="181.08" stroke="#6e6e6e" stroke-width="0.805"/>
<line x1="497" y1="181.08" x2="539.8" y2="206.58" stroke="#6e6e6e" stroke-width="0.805"/>
<line x1="539.8" y1="206.58" x2="551" y2="213.25" stroke="#6e6e6e" stroke-width="0.805"/>
<line x1="551" y1="213.25" x2="567.2" y2="222.9" stroke="#6e6e6e" stroke-width="0.805"/>
<line x1="479.4" y1="178.1" x2="485.6" y2="181.79" stroke="#6e6e6e" stroke-width="0.805"/>
<line x1="485.6" y1="181.79" x2="497" y2="188.58" stroke="#6e6e6e" stroke-width="0.805"/>
<line x1="497" y1="188.58" x2="539.8" y2="214.08" stroke="#6e6e6e" stroke-width="0.805"/>
<line x1="539.8" y1="214.08" x2="551" y2="220.75" stroke="#6e6e6e" stroke-width="0.805"/>
<line x1="551" y1="220.75" x2="567.2" y2="230.4" stroke="#6e6e6e" stroke-width="0.805"/>
<line x1="479.4" y1="185.6" x2="485.6" y2="189.29" stroke="#6e6e6e" stroke-width="0.805"/>
<line x1="485.6" y1="189.29" x2="497" y2="196.08" stroke="#6e6e6e" stroke-width="0.805"/>
<line x1="497" y1="196.08" x2="539.8" y2="221.58" stroke="#6e6e6e" stroke-width="0.805"/>
<line x1="539.8" y1="221.58" x2="551" y2="228.25" stroke="#6e6e6e" stroke-width="0.805"/>
<line x1="551" y1="228.25" x2="567.2" y2="237.9" stroke="#6e6e6e" stroke-width="0.805"/>
<line x1="479.4" y1="193.1" x2="485.6" y2="196.79" stroke="#6e6e6e" stroke-width="0.805"/>
<line x1="485.6" y1="196.79" x2="497" y2="203.58" stroke="#6e6e6e" stroke-width="0.805"/>
<line x1="497" y1="203.58" x2="539.8" y2="229.08" stroke="#6e6e6e" stroke-width="0.805"/>
<line x1="539.8" y1="229.08" x2="551" y2="235.75" stroke="#6e6e6e" stroke-width="0.805"/>
<line x1="551" y1="235.75" x2="567.2" y2="245.4" stroke="#6e6e6e" stroke-width="0.805"/>
<line x1="479.4" y1="200.6" x2="485.6" y2="204.29" stroke="#6e6e6e" stroke-width="0.805"/>
<line x1="485.6" y1="204.29" x2="497" y2="211.08" stroke="#6e6e6e" stroke-width="0.805"/>
<line x1="497" y1="211.08" x2="539.8" y2="236.58" stroke="#6e6e6e" stroke-width="0.805"/>
<line x1="539.8" y1="236.58" x2="551" y2="243.25" stroke="#6e6e6e" stroke-width="0.805"/>
<line x1="551" y1="243.25" x2="567.2" y2="252.9" stroke="#6e6e6e" stroke-width="0.805"/>
<line x1="479.4" y1="208.1" x2="485.6" y2="211.79" stroke="#6e6e6e" stroke-width="0.805"/>
<line x1="497" y1="218.58" x2="539.8" y2="244.08" stroke="#6e6e6e" stroke-width="0.805"/>
<line x1="551" y1="250.75" x2="567.2" y2="260.4" stroke="#6e6e6e" stroke-width="0.805"/>
<line x1="479.4" y1="215.6" x2="485.6" y2="219.29" stroke="#6e6e6e" stroke-width="0.805"/>
<line x1="497" y1="226.08" x2="539.8" y2="251.58" stroke="#6e6e6e" stroke-width="0.805"/>
<line x1="551" y1="258.25" x2="567.2" y2="267.9" stroke="#6e6e6e" stroke-width="0.805"/>
<polygon points="479.4,155.6 567.2,207.9 586.6,200.0 495.0,147.29999999999998" stroke="#6e6e6e" stroke-width="1.035" fill="#fff"/>
<line x1="479.4" y1="155.6" x2="495.0" y2="147.3" stroke="#6e6e6e" stroke-width="0.69"/>
<line x1="484.28" y1="158.51" x2="500.09" y2="150.23" stroke="#6e6e6e" stroke-width="0.69"/>
<line x1="489.16" y1="161.41" x2="505.18" y2="153.16" stroke="#6e6e6e" stroke-width="0.69"/>
<line x1="494.03" y1="164.32" x2="510.27" y2="156.08" stroke="#6e6e6e" stroke-width="0.69"/>
<line x1="498.91" y1="167.22" x2="515.36" y2="159.01" stroke="#6e6e6e" stroke-width="0.69"/>
<line x1="503.79" y1="170.13" x2="520.44" y2="161.94" stroke="#6e6e6e" stroke-width="0.69"/>
<line x1="508.67" y1="173.03" x2="525.53" y2="164.87" stroke="#6e6e6e" stroke-width="0.69"/>
<line x1="513.54" y1="175.94" x2="530.62" y2="167.79" stroke="#6e6e6e" stroke-width="0.69"/>
<line x1="518.42" y1="178.84" x2="535.71" y2="170.72" stroke="#6e6e6e" stroke-width="0.69"/>
<line x1="523.3" y1="181.75" x2="540.8" y2="173.65" stroke="#6e6e6e" stroke-width="0.69"/>
<line x1="528.18" y1="184.66" x2="545.89" y2="176.58" stroke="#6e6e6e" stroke-width="0.69"/>
<line x1="533.06" y1="187.56" x2="550.98" y2="179.51" stroke="#6e6e6e" stroke-width="0.69"/>
<line x1="537.93" y1="190.47" x2="556.07" y2="182.43" stroke="#6e6e6e" stroke-width="0.69"/>
<line x1="542.81" y1="193.37" x2="561.16" y2="185.36" stroke="#6e6e6e" stroke-width="0.69"/>
<line x1="547.69" y1="196.28" x2="566.24" y2="188.29" stroke="#6e6e6e" stroke-width="0.69"/>
<line x1="552.57" y1="199.18" x2="571.33" y2="191.22" stroke="#6e6e6e" stroke-width="0.69"/>
<line x1="557.44" y1="202.09" x2="576.42" y2="194.14" stroke="#6e6e6e" stroke-width="0.69"/>
<line x1="562.32" y1="204.99" x2="581.51" y2="197.07" stroke="#6e6e6e" stroke-width="0.69"/>
<line x1="567.2" y1="207.9" x2="586.6" y2="200.0" stroke="#6e6e6e" stroke-width="0.69"/>
<line x1="481.84" y1="157.05" x2="497.54" y2="148.76" stroke="#848484" stroke-width="0.632"/>
<line x1="486.72" y1="159.96" x2="502.63" y2="151.69" stroke="#848484" stroke-width="0.632"/>
<line x1="491.59" y1="162.86" x2="507.72" y2="154.62" stroke="#848484" stroke-width="0.632"/>
<line x1="496.47" y1="165.77" x2="512.81" y2="157.55" stroke="#848484" stroke-width="0.632"/>
<line x1="501.35" y1="168.68" x2="517.9" y2="160.48" stroke="#848484" stroke-width="0.632"/>
<line x1="506.23" y1="171.58" x2="522.99" y2="163.4" stroke="#848484" stroke-width="0.632"/>
<line x1="511.11" y1="174.49" x2="528.08" y2="166.33" stroke="#848484" stroke-width="0.632"/>
<line x1="515.98" y1="177.39" x2="533.17" y2="169.26" stroke="#848484" stroke-width="0.632"/>
<line x1="520.86" y1="180.3" x2="538.26" y2="172.19" stroke="#848484" stroke-width="0.632"/>
<line x1="525.74" y1="183.2" x2="543.34" y2="175.11" stroke="#848484" stroke-width="0.632"/>
<line x1="530.62" y1="186.11" x2="548.43" y2="178.04" stroke="#848484" stroke-width="0.632"/>
<line x1="535.49" y1="189.01" x2="553.52" y2="180.97" stroke="#848484" stroke-width="0.632"/>
<line x1="540.37" y1="191.92" x2="558.61" y2="183.9" stroke="#848484" stroke-width="0.632"/>
<line x1="545.25" y1="194.82" x2="563.7" y2="186.82" stroke="#848484" stroke-width="0.632"/>
<line x1="550.13" y1="197.73" x2="568.79" y2="189.75" stroke="#848484" stroke-width="0.632"/>
<line x1="555.01" y1="200.64" x2="573.88" y2="192.68" stroke="#848484" stroke-width="0.632"/>
<line x1="559.88" y1="203.54" x2="578.97" y2="195.61" stroke="#848484" stroke-width="0.632"/>
<line x1="564.76" y1="206.45" x2="584.06" y2="198.54" stroke="#848484" stroke-width="0.632"/>
<line x1="484.7" y1="152.78" x2="573.8" y2="205.21" stroke="#6e6e6e" stroke-width="0.69"/>
<line x1="489.85" y1="150.04" x2="580.2" y2="202.61" stroke="#6e6e6e" stroke-width="0.69"/>
<polygon points="567.2,207.9 586.6,200.0 586.6,267.5 567.2,275.4" stroke="#6e6e6e" stroke-width="1.035" fill="#fff"/>
<line x1="576.9000000000001" y1="203.95000000000002" x2="576.9000000000001" y2="271.45000000000005" stroke="#6e6e6e" stroke-width="0.69"/>
<line x1="567.2" y1="216.34" x2="586.6" y2="208.44" stroke="#6e6e6e" stroke-width="0.69"/>
<line x1="567.2" y1="224.78" x2="586.6" y2="216.88" stroke="#6e6e6e" stroke-width="0.69"/>
<line x1="567.2" y1="233.21" x2="586.6" y2="225.31" stroke="#6e6e6e" stroke-width="0.69"/>
<line x1="567.2" y1="241.65" x2="586.6" y2="233.75" stroke="#6e6e6e" stroke-width="0.69"/>
<line x1="567.2" y1="250.09" x2="586.6" y2="242.19" stroke="#6e6e6e" stroke-width="0.69"/>
<line x1="567.2" y1="258.52" x2="586.6" y2="250.62" stroke="#6e6e6e" stroke-width="0.69"/>
<line x1="567.2" y1="266.96" x2="586.6" y2="259.06" stroke="#6e6e6e" stroke-width="0.69"/>
<line x1="490.85" y1="210.29316628701596" x2="490.85" y2="199.29316628701596" stroke="#a8a8a8" stroke-width="0.575"/>
<ellipse cx="532.5" cy="277.5" rx="3" ry="2.8" stroke="#606060" stroke-width="1.265" fill="#fff"/>
<ellipse cx="532.5" cy="277.5" rx="1.2" ry="1.1" stroke="#737373" stroke-width="0.92" fill="none"/>
<path d="M538.5,273.5 L544.5,270" stroke="#525252" stroke-width="2.185" fill="none" />
<line x1="544.5" y1="270" x2="550" y2="267" stroke="#9a9a9a" stroke-width="0.69"/>
<line x1="526" y1="280.5" x2="532" y2="277.5" stroke="#9a9a9a" stroke-width="0.69"/>
<path d="M444.0,255.0 C448.0,248.0 458.0,251.0 466.0,258.0 L518.0,305.0 C525.0,312.0 523.0,321.0 512.0,319.0 L458.0,298.0 C448.0,294 440.0,280 441.0,266 C441.0,260.0 442.0,257.0 444.0,255.0 Z" stroke="#737373" stroke-width="0.92" fill="none" />
<path d="M445.02,256.53 C448.51,250.04 457.66,252.53 465.32,258.85 L515.96,305.34 C522.45,311.66 520.79,318.79 510.64,317.13 L458.34,296.47 C449.53,292.3 441.53,280 442.53,266 C442.36,260.51 443.19,258.02 445.02,256.53 Z" stroke="#737373" stroke-width="0.69" fill="none" />
<path d="M446.04,258.06 C449.02,252.08 457.32,254.06 464.64,259.7 L513.92,305.68 C519.9,311.32 518.58,316.58 509.28,315.26 L458.68,294.94 C451.06,290.6 443.06,280 444.06,266 C443.72,261.02 444.38,259.04 446.04,258.06 Z" stroke="#737373" stroke-width="0.92" fill="none" />
<line x1="423" y1="246" x2="423" y2="280" stroke="#a8a8a8" stroke-width="0.69"/>
<ellipse cx="423" cy="245.2" rx="1.9" ry="1.5" stroke="#6e6e6e" stroke-width="1.035" fill="#ddd"/>
<ellipse cx="423" cy="249" rx="1.2" ry="1.1" stroke="#434343" stroke-width="1.15" fill="#222"/>
<ellipse cx="423" cy="254" rx="2.3" ry="1.3" stroke="#6e6e6e" stroke-width="1.15" fill="#999"/>
<ellipse cx="423" cy="261.3" rx="2.1" ry="1.5" stroke="#6e6e6e" stroke-width="1.15" fill="#999"/>
<ellipse cx="423" cy="269" rx="3.8" ry="3" stroke="#737373" stroke-width="1.15" fill="#fff"/>
<ellipse cx="423" cy="268.2" rx="2.8" ry="1.5" stroke="#353535" stroke-width="1.15" fill="#222"/>
<ellipse cx="431.8" cy="314.9" rx="25" ry="40" stroke="#737373" stroke-width="1.15" fill="#fff" transform="rotate(-21.8 431.8 314.9)"/>
<ellipse cx="429.4" cy="316.0" rx="25" ry="40" stroke="#737373" stroke-width="1.15" fill="#fff" transform="rotate(-21.8 429.4 316.0)"/>
<ellipse cx="427.0" cy="317.1" rx="25" ry="40" stroke="#737373" stroke-width="1.15" fill="#fff" transform="rotate(-21.8 427.0 317.1)"/>
<ellipse cx="424.6" cy="318.2" rx="25" ry="40" stroke="#737373" stroke-width="1.265" fill="#fff" transform="rotate(-21.8 424.6 318.2)"/>
<ellipse cx="422.6" cy="319.2" rx="20" ry="33" stroke="#737373" stroke-width="1.035" fill="none" transform="rotate(-21.8 422.6 319.2)"/>
<ellipse cx="424.0" cy="318.5" rx="19.5" ry="32" stroke="#737373" stroke-width="0.69" fill="none" transform="rotate(-21.8 424.0 318.5)"/>
<line x1="418" y1="319.7" x2="406.6" y2="291" stroke="#737373" stroke-width="1.035"/>
<line x1="419.5" y1="320.2" x2="408.1" y2="291.5" stroke="#737373" stroke-width="0.69"/>
<line x1="418" y1="319.7" x2="430.7" y2="303.4" stroke="#737373" stroke-width="1.035"/>
<line x1="419.5" y1="320.2" x2="432.2" y2="303.9" stroke="#737373" stroke-width="0.69"/>
<line x1="418" y1="319.7" x2="441.9" y2="318.8" stroke="#737373" stroke-width="1.035"/>
<line x1="419.5" y1="320.2" x2="443.4" y2="319.3" stroke="#737373" stroke-width="0.69"/>
<line x1="418" y1="319.7" x2="427" y2="344.2" stroke="#737373" stroke-width="1.035"/>
<line x1="419.5" y1="320.2" x2="428.5" y2="344.7" stroke="#737373" stroke-width="0.69"/>
<line x1="418" y1="319.7" x2="404.8" y2="322" stroke="#737373" stroke-width="1.035"/>
<line x1="419.5" y1="320.2" x2="406.3" y2="322.5" stroke="#737373" stroke-width="0.69"/>
<ellipse cx="418" cy="319.7" rx="4.8" ry="5.5" stroke="#737373" stroke-width="1.035" fill="#fff" transform="rotate(-21.8 418 319.7)"/>
<ellipse cx="417.5" cy="320.2" rx="2.2" ry="2.8" stroke="#737373" stroke-width="0.92" fill="#fff" transform="rotate(-21.8 417.5 320.2)"/>
<ellipse cx="493.2" cy="373.9" rx="19" ry="25.5" stroke="#737373" stroke-width="1.15" fill="#fff" transform="rotate(-21 493.2 373.9)"/>
<ellipse cx="490.3" cy="375.1" rx="19" ry="25.5" stroke="#737373" stroke-width="1.15" fill="#fff" transform="rotate(-21 490.3 375.1)"/>
<ellipse cx="487.4" cy="376.3" rx="19" ry="25.5" stroke="#737373" stroke-width="1.15" fill="#fff" transform="rotate(-21 487.4 376.3)"/>
<ellipse cx="484.5" cy="377.5" rx="19" ry="25.5" stroke="#737373" stroke-width="1.265" fill="#fff" transform="rotate(-21 484.5 377.5)"/>
<line x1="487" y1="378" x2="504" y2="366.5" stroke="#8b8b8b" stroke-width="0.69"/>
<ellipse cx="478.3" cy="379.5" rx="8.3" ry="9.5" stroke="#737373" stroke-width="1.035" fill="#fff" transform="rotate(-21 478.3 379.5)"/>
<path d="M472,371.5 L478,368.5 M479,389 L485,386" stroke="#737373" stroke-width="0.805" fill="none" />
<ellipse cx="476.6" cy="380.7" rx="3.2" ry="4.2" stroke="#737373" stroke-width="1.035" fill="#fff" transform="rotate(-21 476.6 380.7)"/>
<ellipse cx="476.6" cy="380.7" rx="1.6" ry="2.2" stroke="#737373" stroke-width="0.69" fill="none" transform="rotate(-21 476.6 380.7)"/>
<line x1="440" y1="397" x2="468" y2="385.9" stroke="#8b8b8b" stroke-width="0.69"/>
<g transform="rotate(-25 521 366.5)"><rect x="517" y="364.5" width="8" height="4" rx="1" stroke="#606060" stroke-width="1.035" fill="#fff"/></g>
<path d="M521.5,425.5 C530,416 546,402 587,396" stroke="#737373" stroke-width="5.06" fill="none" />
<path d="M521.5,425.5 C530,416 546,402 587,396" stroke="#ffffff" stroke-width="2.99" fill="none" />
<path d="M508,421 L520,425 M505,425 L520,427 M510,433 L521,427 M504,424 L508,421" stroke="#606060" stroke-width="1.035" fill="none" />
<ellipse cx="504" cy="425" rx="1.5" ry="1.2" stroke="#525252" stroke-width="1.15" fill="none"/>
<ellipse cx="510" cy="434" rx="1.4" ry="1.2" stroke="#525252" stroke-width="1.15" fill="none"/>
<ellipse cx="508" cy="420.5" rx="1.2" ry="1" stroke="#525252" stroke-width="1.15" fill="none"/>
<path d="M516,468.5 C528,456 550,440 588,437" stroke="#737373" stroke-width="5.06" fill="none" />
<path d="M516,468.5 C528,456 550,440 588,437" stroke="#ffffff" stroke-width="2.99" fill="none" />
<path d="M588,437 L592,432 M588,437 L593,438 M588,437 L591,443" stroke="#606060" stroke-width="1.15" fill="none" />
<ellipse cx="592.5" cy="432" rx="1" ry="1.3" stroke="#525252" stroke-width="1.035" fill="none"/>
<ellipse cx="593.5" cy="438.5" rx="1" ry="1.2" stroke="#525252" stroke-width="1.035" fill="none"/>
<ellipse cx="591.5" cy="443.5" rx="1" ry="1.2" stroke="#525252" stroke-width="1.035" fill="none"/>
<path d="M460,461 L470,457 L477,460 L477,470 L467,474.5 L460,471 Z" stroke="#737373" stroke-width="1.15" fill="#fff" />
<path d="M460,461 L467,464.5 L477,460 M467,464.5 L467,474.5" stroke="#737373" stroke-width="1.035" fill="none" />
<ellipse cx="463" cy="466" rx="1" ry="0.8" fill="#222"/>
<line x1="469" y1="474" x2="469" y2="492" stroke="#9a9a9a" stroke-width="0.69"/>
<rect x="467.3" y="478" width="3.4" height="8" stroke="#525252" stroke-width="1.15" fill="#777"/>
<path d="M441.5,473 L449.5,477 M442,471.5 L450,475.5" stroke="#606060" stroke-width="2.07" fill="none" />
<line x1="450" y1="476" x2="459.7" y2="482" stroke="#a8a8a8" stroke-width="0.69"/>
<line x1="459.7" y1="482" x2="459.7" y2="499" stroke="#a8a8a8" stroke-width="0.69"/>
<ellipse cx="428" cy="480.5" rx="6.2" ry="7" stroke="#737373" stroke-width="1.15" fill="#fff"/>
<ellipse cx="428" cy="480.5" rx="4.4" ry="5.3" stroke="#737373" stroke-width="0.92" fill="none"/>
<line x1="426" y1="476" x2="429" y2="482" stroke="#737373" stroke-width="0.805"/>
<line x1="428" y1="488" x2="428.5" y2="492" stroke="#606060" stroke-width="1.84"/>
<line x1="430" y1="488.4" x2="447" y2="501" stroke="#9a9a9a" stroke-width="0.69"/>
<path d="M446,505 L476,492 C480,491 482,494 481,497 L481,500 L451,513 C447,514 444,511 444,508 Z" stroke="#737373" stroke-width="1.15" fill="#fff" />
<path d="M446,505 C448,503 451,506 451,509 L451,513" stroke="#737373" stroke-width="1.035" fill="none" />
<path d="M452,502 L478,513 M455,500 L482,506 L478,513" stroke="#9a9a9a" stroke-width="0.805" fill="none" />
<ellipse cx="447" cy="509" rx="2.5" ry="3.3" stroke="#606060" stroke-width="1.495" fill="none"/>
<ellipse cx="459.7" cy="499.4" rx="1.3" ry="1.04" fill="#222"/>
<ellipse cx="472" cy="494.7" rx="1.3" ry="1.04" fill="#222"/>
<path d="M466,517 L472,514 M465,519 L470,516.5" stroke="#525252" stroke-width="1.84" fill="none" />
<path d="M458,522 L462,520" stroke="#525252" stroke-width="2.07" fill="none" />
<ellipse cx="475" cy="515" rx="1" ry="0.8" fill="#222"/>
<line x1="463" y1="521" x2="480" y2="513" stroke="#a8a8a8" stroke-width="0.69"/>
<path d="M531,542 L538,537.3 L560.2,549.6 L561,538" stroke="#6e6e6e" stroke-width="2.99" fill="none" />
<path d="M531,542 L538,537.3 L560.2,549.6 L561,538" stroke="#ffffff" stroke-width="1.38" fill="none" />
<ellipse cx="561" cy="537.8" rx="1.5" ry="1.1" stroke="#434343" stroke-width="1.38" fill="#222"/>
<ellipse cx="528.8" cy="543.4" rx="1.5" ry="1.2000000000000002" fill="#222"/>
<path d="M516,551.5 L519.5,548.5" stroke="#525252" stroke-width="2.07" fill="none" />
<line x1="520" y1="548" x2="528" y2="544" stroke="#a8a8a8" stroke-width="0.69"/>
<path d="M508.8,561 L514,557.5 L515,555" stroke="#8b8b8b" stroke-width="0.92" fill="none" />
<path d="M496,558 L503,554.5 L505,559 L498,563 Z" stroke="#525252" stroke-width="1.495" fill="#999" />
<ellipse cx="497.5" cy="560" rx="2.2" ry="2.8" stroke="#434343" stroke-width="1.495" fill="none"/>
<line x1="502" y1="563" x2="502" y2="568" stroke="#525252" stroke-width="1.61"/>
<line x1="476" y1="573" x2="495" y2="561" stroke="#a8a8a8" stroke-width="0.69"/>
<path d="M445,560 L446.5,575 C448,586 454,589 462,584 L473,576.5" stroke="#6e6e6e" stroke-width="5.75" fill="none" />
<path d="M445,560 L446.5,575 C448,586 454,589 462,584 L473,576.5" stroke="#ffffff" stroke-width="3.68" fill="none" />
<path d="M445,560 L446.5,575 C448,586 454,589 462,584 L473,576.5" stroke="#8b8b8b" stroke-width="3.68" fill="none" stroke-dasharray="0.7 1.3"/>
<ellipse cx="444.8" cy="559.5" rx="2.6" ry="1.6" stroke="#606060" stroke-width="1.15" fill="#fff"/>
<ellipse cx="473" cy="576.5" rx="2" ry="2.8" stroke="#606060" stroke-width="1.15" fill="#fff" transform="rotate(-30 473 576.5)"/>
<path d="M344,535 L368,525 C371,524 373,526 373,528 L373,532 L350,550 C347,552 344,551 343,548 Z" stroke="#737373" stroke-width="1.15" fill="#fff" />
<path d="M346,545 L371,530" stroke="#737373" stroke-width="0.92" fill="none" />
<ellipse cx="350" cy="546" rx="1" ry="0.8" stroke="#737373" stroke-width="0.805" fill="none"/>
<ellipse cx="368" cy="532" rx="1" ry="0.8" stroke="#737373" stroke-width="0.805" fill="none"/>
<path d="M328,504 L358,494 C366,492 371,498 372.5,508 C373.5,517 371,524 366,528 L345,541 C338,545 333,544 331,541 Z" stroke="#737373" stroke-width="1.15" fill="#fff" />
<clipPath id="mb"><path d="M328,504 L358,494 C366,492 371,498 372.5,508 C373.5,517 371,524 366,528 L345,541 C338,545 333,544 331,541 Z"/></clipPath>
<g clip-path="url(#mb)">
<line x1="320" y1="504.0" x2="380" y2="482.5" stroke="#7d7d7d" stroke-width="0.805"/>
<line x1="320" y1="506.6" x2="380" y2="485.1" stroke="#7d7d7d" stroke-width="0.805"/>
<line x1="320" y1="509.2" x2="380" y2="487.7" stroke="#7d7d7d" stroke-width="0.805"/>
<line x1="320" y1="511.8" x2="380" y2="490.3" stroke="#7d7d7d" stroke-width="0.805"/>
<line x1="320" y1="514.4" x2="380" y2="492.9" stroke="#7d7d7d" stroke-width="0.805"/>
<line x1="320" y1="517.0" x2="380" y2="495.5" stroke="#7d7d7d" stroke-width="0.805"/>
<line x1="320" y1="519.6" x2="380" y2="498.1" stroke="#7d7d7d" stroke-width="0.805"/>
<line x1="320" y1="522.2" x2="380" y2="500.70000000000005" stroke="#7d7d7d" stroke-width="0.805"/>
<line x1="320" y1="524.8" x2="380" y2="503.29999999999995" stroke="#7d7d7d" stroke-width="0.805"/>
<line x1="320" y1="527.4" x2="380" y2="505.9" stroke="#7d7d7d" stroke-width="0.805"/>
<line x1="320" y1="530.0" x2="380" y2="508.5" stroke="#7d7d7d" stroke-width="0.805"/>
<line x1="320" y1="532.6" x2="380" y2="511.1" stroke="#7d7d7d" stroke-width="0.805"/>
<line x1="320" y1="535.2" x2="380" y2="513.7" stroke="#7d7d7d" stroke-width="0.805"/>
<line x1="320" y1="537.8" x2="380" y2="516.3" stroke="#7d7d7d" stroke-width="0.805"/>
<line x1="320" y1="540.4" x2="380" y2="518.9" stroke="#7d7d7d" stroke-width="0.805"/>
<line x1="320" y1="543.0" x2="380" y2="521.5" stroke="#7d7d7d" stroke-width="0.805"/>
<line x1="320" y1="545.6" x2="380" y2="524.1" stroke="#7d7d7d" stroke-width="0.805"/>
<line x1="320" y1="548.2" x2="380" y2="526.7" stroke="#7d7d7d" stroke-width="0.805"/>
</g>
<path d="M366,494 C372,500 374,512 372,522" stroke="#737373" stroke-width="0.92" fill="none" />
<path d="M341.5,488 L352,484 L360,487.5 L360,497 L349.5,501 L341.5,497.5 Z" stroke="#737373" stroke-width="1.15" fill="#fff" />
<path d="M341.5,488 L349.5,492 L360,487.5 M349.5,492 L349.5,501" stroke="#737373" stroke-width="1.035" fill="none" />
<ellipse cx="349.5" cy="492.5" rx="0.8" ry="0.6400000000000001" fill="#222"/>
<path d="M316,510 C320,505 328,503 336,504 L341,508 C347,516 347,534 340,544 L334,548 C327,549 320,546 316,540" stroke="#737373" stroke-width="1.15" fill="#fff" />
<ellipse cx="322" cy="527.8" rx="15.2" ry="19" stroke="#737373" stroke-width="1.265" fill="#fff" transform="rotate(-10 322 527.8)"/>
<ellipse cx="320" cy="530.5" rx="11.8" ry="15.2" stroke="#737373" stroke-width="1.035" fill="#fff" transform="rotate(-10 320 530.5)"/>
<clipPath id="gr"><ellipse cx="320" cy="530.5" rx="11" ry="14.4" transform="rotate(-10 320 530.5)"/></clipPath>
<g clip-path="url(#gr)">
<line x1="300" y1="514.0" x2="340" y2="507.0" stroke="#7d7d7d" stroke-width="0.805"/>
<line x1="300" y1="516.4" x2="340" y2="509.4" stroke="#7d7d7d" stroke-width="0.805"/>
<line x1="300" y1="518.8" x2="340" y2="511.8" stroke="#7d7d7d" stroke-width="0.805"/>
<line x1="300" y1="521.2" x2="340" y2="514.2" stroke="#7d7d7d" stroke-width="0.805"/>
<line x1="300" y1="523.6" x2="340" y2="516.6" stroke="#7d7d7d" stroke-width="0.805"/>
<line x1="300" y1="526.0" x2="340" y2="519.0" stroke="#7d7d7d" stroke-width="0.805"/>
<line x1="300" y1="528.4" x2="340" y2="521.4" stroke="#7d7d7d" stroke-width="0.805"/>
<line x1="300" y1="530.8" x2="340" y2="523.8" stroke="#7d7d7d" stroke-width="0.805"/>
<line x1="300" y1="533.2" x2="340" y2="526.2" stroke="#7d7d7d" stroke-width="0.805"/>
<line x1="300" y1="535.6" x2="340" y2="528.6" stroke="#7d7d7d" stroke-width="0.805"/>
<line x1="300" y1="538.0" x2="340" y2="531.0" stroke="#7d7d7d" stroke-width="0.805"/>
<line x1="300" y1="540.4" x2="340" y2="533.4" stroke="#7d7d7d" stroke-width="0.805"/>
<line x1="300" y1="542.8" x2="340" y2="535.8" stroke="#7d7d7d" stroke-width="0.805"/>
<line x1="300" y1="545.2" x2="340" y2="538.2" stroke="#7d7d7d" stroke-width="0.805"/>
<line x1="300" y1="547.6" x2="340" y2="540.6" stroke="#7d7d7d" stroke-width="0.805"/>
<line x1="305.0" y1="510" x2="311.0" y2="552" stroke="#7d7d7d" stroke-width="0.805"/>
<line x1="307.4" y1="510" x2="313.4" y2="552" stroke="#7d7d7d" stroke-width="0.805"/>
<line x1="309.8" y1="510" x2="315.8" y2="552" stroke="#7d7d7d" stroke-width="0.805"/>
<line x1="312.2" y1="510" x2="318.2" y2="552" stroke="#7d7d7d" stroke-width="0.805"/>
<line x1="314.6" y1="510" x2="320.6" y2="552" stroke="#7d7d7d" stroke-width="0.805"/>
<line x1="317.0" y1="510" x2="323.0" y2="552" stroke="#7d7d7d" stroke-width="0.805"/>
<line x1="319.4" y1="510" x2="325.4" y2="552" stroke="#7d7d7d" stroke-width="0.805"/>
<line x1="321.8" y1="510" x2="327.8" y2="552" stroke="#7d7d7d" stroke-width="0.805"/>
<line x1="324.2" y1="510" x2="330.2" y2="552" stroke="#7d7d7d" stroke-width="0.805"/>
<line x1="326.6" y1="510" x2="332.6" y2="552" stroke="#7d7d7d" stroke-width="0.805"/>
<line x1="329.0" y1="510" x2="335.0" y2="552" stroke="#7d7d7d" stroke-width="0.805"/>
<line x1="331.4" y1="510" x2="337.4" y2="552" stroke="#7d7d7d" stroke-width="0.805"/>
<line x1="333.8" y1="510" x2="339.8" y2="552" stroke="#7d7d7d" stroke-width="0.805"/>
</g>
<line x1="379" y1="499" x2="379" y2="527" stroke="#9a9a9a" stroke-width="0.69"/>
<rect x="378" y="499.5" width="2.2" height="4" stroke="#525252" stroke-width="1.035" fill="#fff"/>
<ellipse cx="379" cy="508" rx="0.9" ry="0.7200000000000001" fill="#222"/>
<ellipse cx="379" cy="515" rx="1.1" ry="0.8800000000000001" fill="#222"/>
<ellipse cx="379" cy="522.5" rx="1.4" ry="1.1199999999999999" fill="#222"/>
</g>
</svg>
</body></html>
